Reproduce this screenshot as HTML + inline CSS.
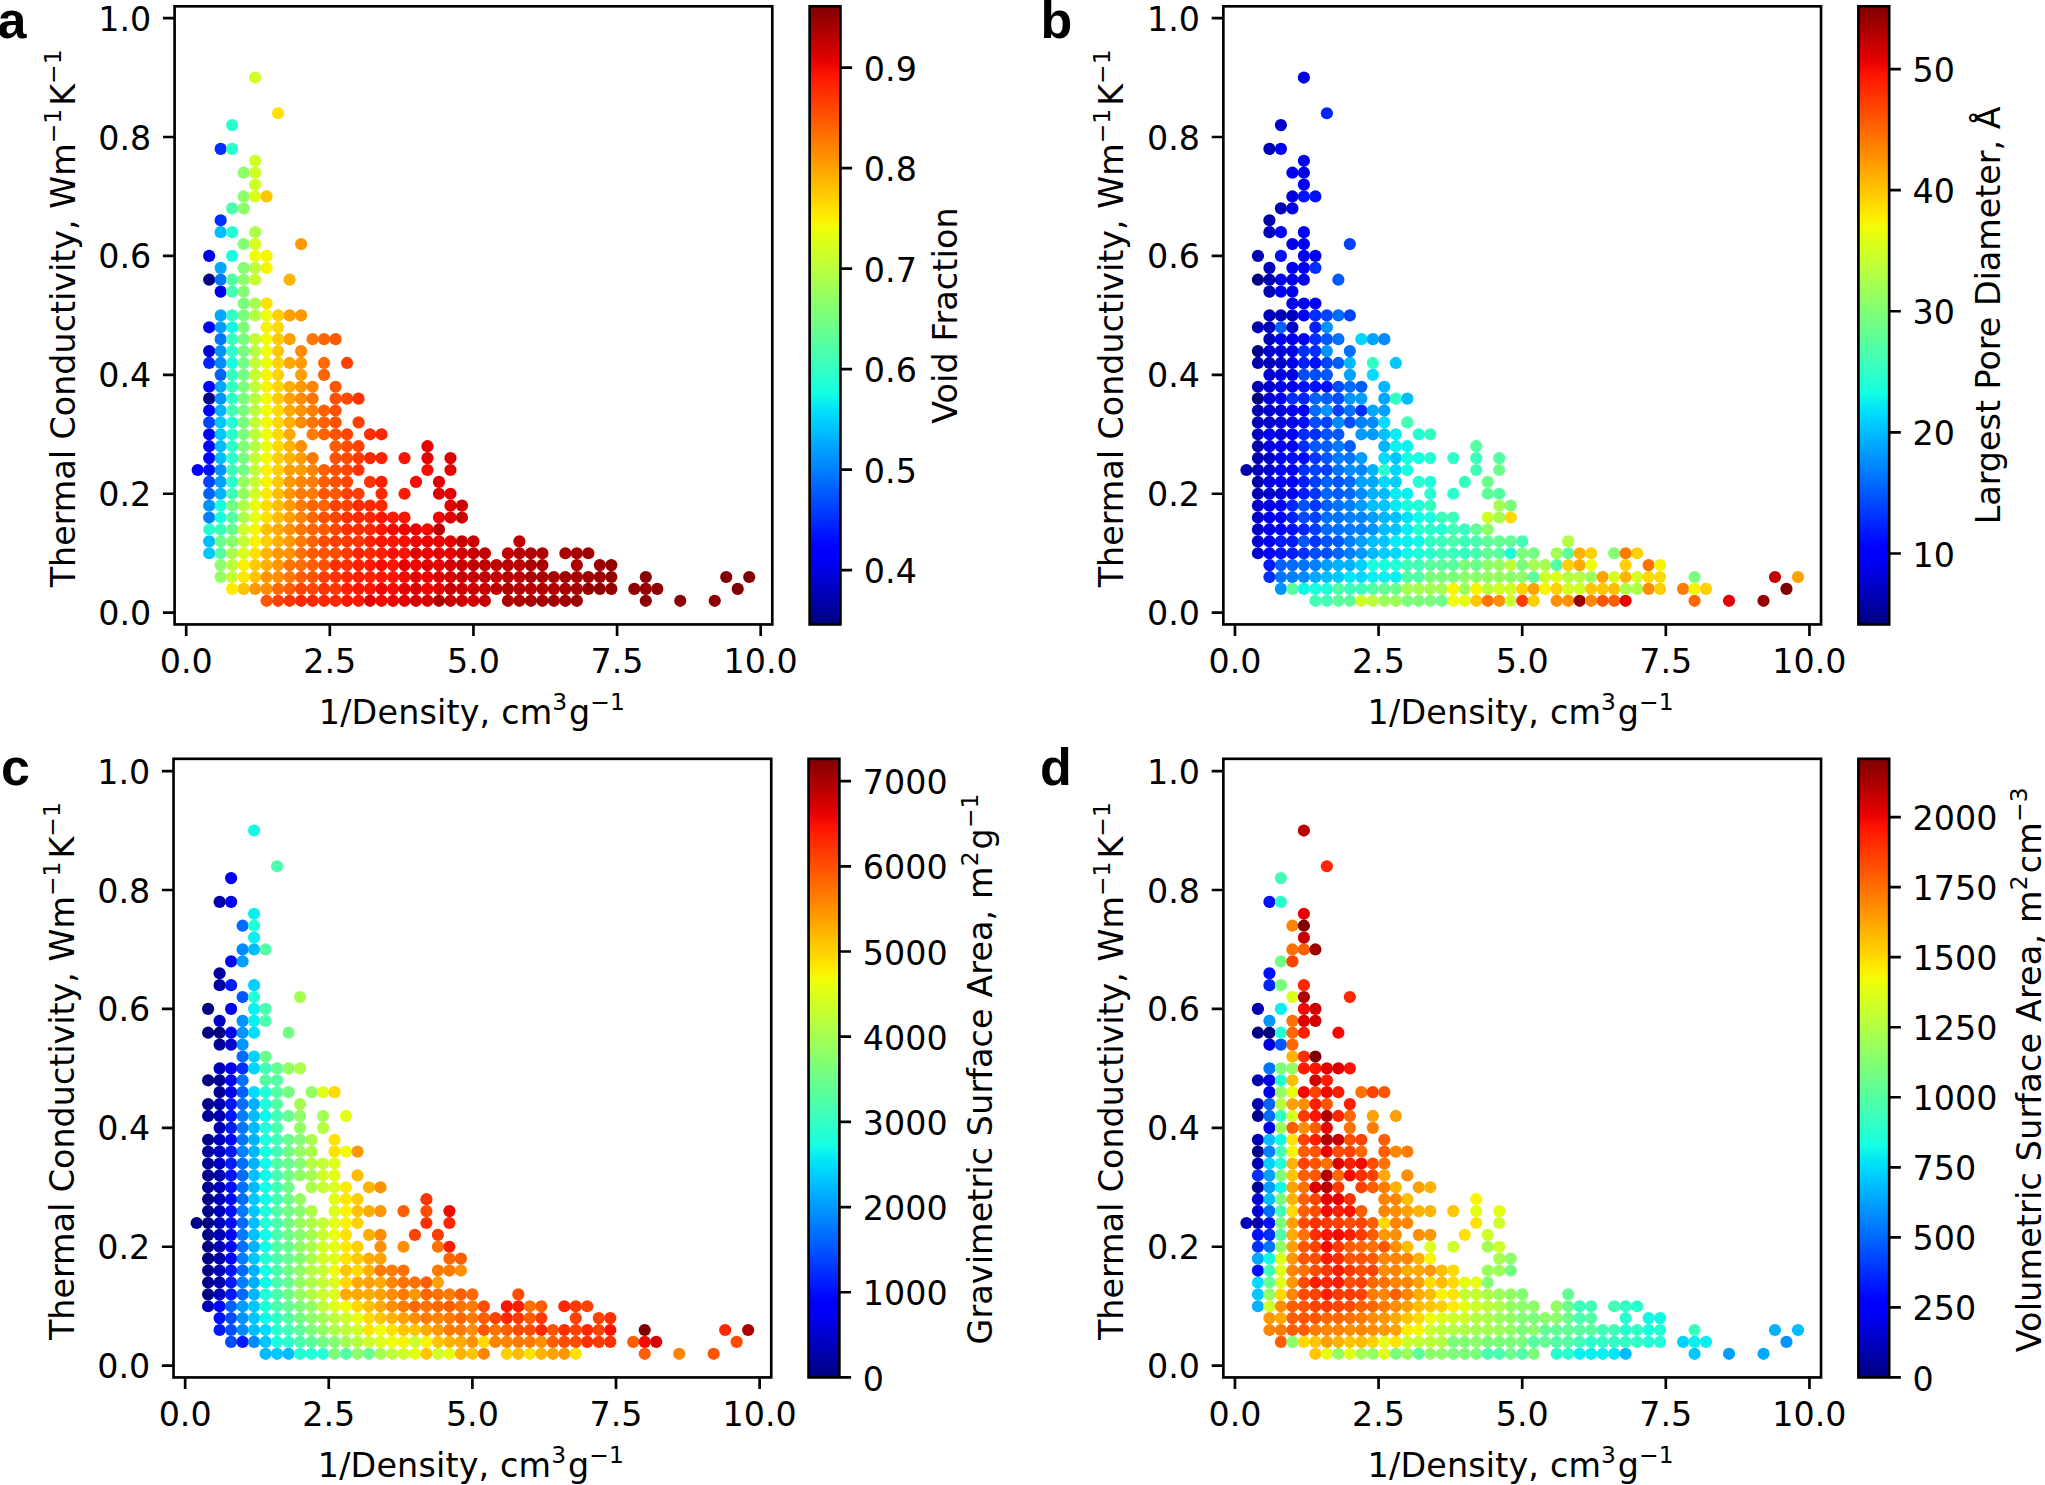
<!DOCTYPE html>
<html lang="en"><head><meta charset="utf-8"><title>Thermal conductivity vs 1/density</title>
<style>html,body{margin:0;padding:0;background:#fff}svg{display:block}</style></head>
<body>
<svg width="2045" height="1485" viewBox="0 0 2045 1485" font-family="'DejaVu Sans', 'Liberation Sans', sans-serif" font-size="33.33" fill="#000">
<rect width="2045" height="1485" fill="#fff"/>
<defs><linearGradient id="jet" x1="0" y1="1" x2="0" y2="0">
<stop offset="0.0000" stop-color="#000080"/>
<stop offset="0.0156" stop-color="#000092"/>
<stop offset="0.0312" stop-color="#0000a4"/>
<stop offset="0.0469" stop-color="#0000b6"/>
<stop offset="0.0625" stop-color="#0000c8"/>
<stop offset="0.0781" stop-color="#0000da"/>
<stop offset="0.0938" stop-color="#0000ec"/>
<stop offset="0.1094" stop-color="#0000fe"/>
<stop offset="0.1250" stop-color="#0000ff"/>
<stop offset="0.1406" stop-color="#0010ff"/>
<stop offset="0.1562" stop-color="#0020ff"/>
<stop offset="0.1719" stop-color="#0030ff"/>
<stop offset="0.1875" stop-color="#0040ff"/>
<stop offset="0.2031" stop-color="#0050ff"/>
<stop offset="0.2188" stop-color="#0060ff"/>
<stop offset="0.2344" stop-color="#0070ff"/>
<stop offset="0.2500" stop-color="#0080ff"/>
<stop offset="0.2656" stop-color="#008fff"/>
<stop offset="0.2812" stop-color="#009fff"/>
<stop offset="0.2969" stop-color="#00afff"/>
<stop offset="0.3125" stop-color="#00bfff"/>
<stop offset="0.3281" stop-color="#00cfff"/>
<stop offset="0.3438" stop-color="#00dffc"/>
<stop offset="0.3594" stop-color="#08efef"/>
<stop offset="0.3750" stop-color="#15ffe2"/>
<stop offset="0.3906" stop-color="#21ffd5"/>
<stop offset="0.4062" stop-color="#2effc9"/>
<stop offset="0.4219" stop-color="#3bffbc"/>
<stop offset="0.4375" stop-color="#48ffaf"/>
<stop offset="0.4531" stop-color="#55ffa2"/>
<stop offset="0.4688" stop-color="#62ff95"/>
<stop offset="0.4844" stop-color="#6fff88"/>
<stop offset="0.5000" stop-color="#7bff7b"/>
<stop offset="0.5156" stop-color="#88ff6f"/>
<stop offset="0.5312" stop-color="#95ff62"/>
<stop offset="0.5469" stop-color="#a2ff55"/>
<stop offset="0.5625" stop-color="#afff48"/>
<stop offset="0.5781" stop-color="#bcff3b"/>
<stop offset="0.5938" stop-color="#c9ff2e"/>
<stop offset="0.6094" stop-color="#d5ff21"/>
<stop offset="0.6250" stop-color="#e2ff15"/>
<stop offset="0.6406" stop-color="#effe08"/>
<stop offset="0.6562" stop-color="#fcf000"/>
<stop offset="0.6719" stop-color="#ffe100"/>
<stop offset="0.6875" stop-color="#ffd200"/>
<stop offset="0.7031" stop-color="#ffc300"/>
<stop offset="0.7188" stop-color="#ffb500"/>
<stop offset="0.7344" stop-color="#ffa600"/>
<stop offset="0.7500" stop-color="#ff9700"/>
<stop offset="0.7656" stop-color="#ff8800"/>
<stop offset="0.7812" stop-color="#ff7a00"/>
<stop offset="0.7969" stop-color="#ff6b00"/>
<stop offset="0.8125" stop-color="#ff5c00"/>
<stop offset="0.8281" stop-color="#ff4d00"/>
<stop offset="0.8438" stop-color="#ff3f00"/>
<stop offset="0.8594" stop-color="#ff3000"/>
<stop offset="0.8750" stop-color="#ff2100"/>
<stop offset="0.8906" stop-color="#fe1200"/>
<stop offset="0.9062" stop-color="#ec0400"/>
<stop offset="0.9219" stop-color="#da0000"/>
<stop offset="0.9375" stop-color="#c80000"/>
<stop offset="0.9531" stop-color="#b60000"/>
<stop offset="0.9688" stop-color="#a40000"/>
<stop offset="0.9844" stop-color="#920000"/>
<stop offset="1.0000" stop-color="#800000"/>
</linearGradient></defs>
<g id="panel-a">
<g stroke="none">
<circle cx="266.63" cy="600.80" r="6.1" fill="#ff5500"/>
<circle cx="278.12" cy="600.80" r="6.1" fill="#ff4200"/>
<circle cx="289.61" cy="600.80" r="6.1" fill="#ff3400"/>
<circle cx="301.10" cy="600.80" r="6.1" fill="#ff2600"/>
<circle cx="312.59" cy="600.80" r="6.1" fill="#ff2600"/>
<circle cx="324.08" cy="600.80" r="6.1" fill="#ff2600"/>
<circle cx="335.57" cy="600.80" r="6.1" fill="#ff2600"/>
<circle cx="347.06" cy="600.80" r="6.1" fill="#ff1800"/>
<circle cx="358.55" cy="600.80" r="6.1" fill="#ff1800"/>
<circle cx="370.04" cy="600.80" r="6.1" fill="#e20000"/>
<circle cx="381.53" cy="600.80" r="6.1" fill="#f30900"/>
<circle cx="393.02" cy="600.80" r="6.1" fill="#ee0500"/>
<circle cx="404.51" cy="600.80" r="6.1" fill="#e20000"/>
<circle cx="416.00" cy="600.80" r="6.1" fill="#d60000"/>
<circle cx="427.49" cy="600.80" r="6.1" fill="#d60000"/>
<circle cx="438.98" cy="600.80" r="6.1" fill="#ae0000"/>
<circle cx="450.47" cy="600.80" r="6.1" fill="#c50000"/>
<circle cx="461.96" cy="600.80" r="6.1" fill="#d10000"/>
<circle cx="473.45" cy="600.80" r="6.1" fill="#d10000"/>
<circle cx="484.94" cy="600.80" r="6.1" fill="#c50000"/>
<circle cx="507.92" cy="600.80" r="6.1" fill="#ae0000"/>
<circle cx="519.41" cy="600.80" r="6.1" fill="#ae0000"/>
<circle cx="530.90" cy="600.80" r="6.1" fill="#a80000"/>
<circle cx="542.39" cy="600.80" r="6.1" fill="#a80000"/>
<circle cx="553.88" cy="600.80" r="6.1" fill="#a20000"/>
<circle cx="565.37" cy="600.80" r="6.1" fill="#a20000"/>
<circle cx="576.86" cy="600.80" r="6.1" fill="#9c0000"/>
<circle cx="645.80" cy="600.80" r="6.1" fill="#8b0000"/>
<circle cx="680.27" cy="600.80" r="6.1" fill="#8b0000"/>
<circle cx="714.74" cy="600.80" r="6.1" fill="#8b0000"/>
<circle cx="232.16" cy="588.91" r="6.1" fill="#ffeb00"/>
<circle cx="243.65" cy="588.91" r="6.1" fill="#ffc400"/>
<circle cx="255.14" cy="588.91" r="6.1" fill="#ff9800"/>
<circle cx="266.63" cy="588.91" r="6.1" fill="#ff8e00"/>
<circle cx="278.12" cy="588.91" r="6.1" fill="#ff6900"/>
<circle cx="289.61" cy="588.91" r="6.1" fill="#ff5d00"/>
<circle cx="301.10" cy="588.91" r="6.1" fill="#ff4400"/>
<circle cx="312.59" cy="588.91" r="6.1" fill="#ff4700"/>
<circle cx="324.08" cy="588.91" r="6.1" fill="#ff3300"/>
<circle cx="335.57" cy="588.91" r="6.1" fill="#ff3600"/>
<circle cx="347.06" cy="588.91" r="6.1" fill="#ff1e00"/>
<circle cx="358.55" cy="588.91" r="6.1" fill="#ff1800"/>
<circle cx="370.04" cy="588.91" r="6.1" fill="#ff1600"/>
<circle cx="381.53" cy="588.91" r="6.1" fill="#f00600"/>
<circle cx="393.02" cy="588.91" r="6.1" fill="#f60c00"/>
<circle cx="404.51" cy="588.91" r="6.1" fill="#e70000"/>
<circle cx="416.00" cy="588.91" r="6.1" fill="#db0000"/>
<circle cx="427.49" cy="588.91" r="6.1" fill="#ef0500"/>
<circle cx="438.98" cy="588.91" r="6.1" fill="#e30000"/>
<circle cx="450.47" cy="588.91" r="6.1" fill="#c60000"/>
<circle cx="461.96" cy="588.91" r="6.1" fill="#d00000"/>
<circle cx="473.45" cy="588.91" r="6.1" fill="#ca0000"/>
<circle cx="484.94" cy="588.91" r="6.1" fill="#c60000"/>
<circle cx="496.43" cy="588.91" r="6.1" fill="#bf0000"/>
<circle cx="507.92" cy="588.91" r="6.1" fill="#b10000"/>
<circle cx="519.41" cy="588.91" r="6.1" fill="#b40000"/>
<circle cx="530.90" cy="588.91" r="6.1" fill="#b60000"/>
<circle cx="542.39" cy="588.91" r="6.1" fill="#b20000"/>
<circle cx="553.88" cy="588.91" r="6.1" fill="#ae0000"/>
<circle cx="565.37" cy="588.91" r="6.1" fill="#a90000"/>
<circle cx="576.86" cy="588.91" r="6.1" fill="#a70000"/>
<circle cx="588.35" cy="588.91" r="6.1" fill="#960000"/>
<circle cx="599.84" cy="588.91" r="6.1" fill="#920000"/>
<circle cx="611.33" cy="588.91" r="6.1" fill="#920000"/>
<circle cx="634.31" cy="588.91" r="6.1" fill="#900000"/>
<circle cx="645.80" cy="588.91" r="6.1" fill="#960000"/>
<circle cx="657.29" cy="588.91" r="6.1" fill="#8f0000"/>
<circle cx="737.72" cy="588.91" r="6.1" fill="#800000"/>
<circle cx="220.67" cy="577.01" r="6.1" fill="#94ff63"/>
<circle cx="232.16" cy="577.01" r="6.1" fill="#c6ff31"/>
<circle cx="243.65" cy="577.01" r="6.1" fill="#ffe900"/>
<circle cx="255.14" cy="577.01" r="6.1" fill="#ffc200"/>
<circle cx="266.63" cy="577.01" r="6.1" fill="#ff9500"/>
<circle cx="278.12" cy="577.01" r="6.1" fill="#ff8e00"/>
<circle cx="289.61" cy="577.01" r="6.1" fill="#ff7600"/>
<circle cx="301.10" cy="577.01" r="6.1" fill="#ff5c00"/>
<circle cx="312.59" cy="577.01" r="6.1" fill="#ff5200"/>
<circle cx="324.08" cy="577.01" r="6.1" fill="#ff3d00"/>
<circle cx="335.57" cy="577.01" r="6.1" fill="#ff3200"/>
<circle cx="347.06" cy="577.01" r="6.1" fill="#ff2500"/>
<circle cx="358.55" cy="577.01" r="6.1" fill="#ff1e00"/>
<circle cx="370.04" cy="577.01" r="6.1" fill="#ff2000"/>
<circle cx="381.53" cy="577.01" r="6.1" fill="#ff1900"/>
<circle cx="393.02" cy="577.01" r="6.1" fill="#ff1300"/>
<circle cx="404.51" cy="577.01" r="6.1" fill="#f40a00"/>
<circle cx="416.00" cy="577.01" r="6.1" fill="#e20000"/>
<circle cx="427.49" cy="577.01" r="6.1" fill="#e90100"/>
<circle cx="438.98" cy="577.01" r="6.1" fill="#de0000"/>
<circle cx="450.47" cy="577.01" r="6.1" fill="#d20000"/>
<circle cx="461.96" cy="577.01" r="6.1" fill="#c40000"/>
<circle cx="473.45" cy="577.01" r="6.1" fill="#c80000"/>
<circle cx="484.94" cy="577.01" r="6.1" fill="#bc0000"/>
<circle cx="496.43" cy="577.01" r="6.1" fill="#c20000"/>
<circle cx="507.92" cy="577.01" r="6.1" fill="#bb0000"/>
<circle cx="519.41" cy="577.01" r="6.1" fill="#b90000"/>
<circle cx="530.90" cy="577.01" r="6.1" fill="#a70000"/>
<circle cx="542.39" cy="577.01" r="6.1" fill="#a70000"/>
<circle cx="553.88" cy="577.01" r="6.1" fill="#a90000"/>
<circle cx="565.37" cy="577.01" r="6.1" fill="#a30000"/>
<circle cx="576.86" cy="577.01" r="6.1" fill="#a80000"/>
<circle cx="588.35" cy="577.01" r="6.1" fill="#a30000"/>
<circle cx="599.84" cy="577.01" r="6.1" fill="#9d0000"/>
<circle cx="611.33" cy="577.01" r="6.1" fill="#940000"/>
<circle cx="645.80" cy="577.01" r="6.1" fill="#890000"/>
<circle cx="726.23" cy="577.01" r="6.1" fill="#800000"/>
<circle cx="749.21" cy="577.01" r="6.1" fill="#800000"/>
<circle cx="220.67" cy="565.12" r="6.1" fill="#8cff6b"/>
<circle cx="232.16" cy="565.12" r="6.1" fill="#bcff3b"/>
<circle cx="243.65" cy="565.12" r="6.1" fill="#fbf100"/>
<circle cx="255.14" cy="565.12" r="6.1" fill="#ffcb00"/>
<circle cx="266.63" cy="565.12" r="6.1" fill="#ffb000"/>
<circle cx="278.12" cy="565.12" r="6.1" fill="#ff9600"/>
<circle cx="289.61" cy="565.12" r="6.1" fill="#ff7100"/>
<circle cx="301.10" cy="565.12" r="6.1" fill="#ff6c00"/>
<circle cx="312.59" cy="565.12" r="6.1" fill="#ff5f00"/>
<circle cx="324.08" cy="565.12" r="6.1" fill="#ff4e00"/>
<circle cx="335.57" cy="565.12" r="6.1" fill="#ff2f00"/>
<circle cx="347.06" cy="565.12" r="6.1" fill="#ff2d00"/>
<circle cx="358.55" cy="565.12" r="6.1" fill="#ff1f00"/>
<circle cx="370.04" cy="565.12" r="6.1" fill="#ff1700"/>
<circle cx="381.53" cy="565.12" r="6.1" fill="#f70d00"/>
<circle cx="393.02" cy="565.12" r="6.1" fill="#ff1400"/>
<circle cx="404.51" cy="565.12" r="6.1" fill="#e80000"/>
<circle cx="416.00" cy="565.12" r="6.1" fill="#f00600"/>
<circle cx="427.49" cy="565.12" r="6.1" fill="#e10000"/>
<circle cx="438.98" cy="565.12" r="6.1" fill="#e70000"/>
<circle cx="450.47" cy="565.12" r="6.1" fill="#d20000"/>
<circle cx="461.96" cy="565.12" r="6.1" fill="#ca0000"/>
<circle cx="473.45" cy="565.12" r="6.1" fill="#c10000"/>
<circle cx="484.94" cy="565.12" r="6.1" fill="#bc0000"/>
<circle cx="496.43" cy="565.12" r="6.1" fill="#c10000"/>
<circle cx="507.92" cy="565.12" r="6.1" fill="#b90000"/>
<circle cx="519.41" cy="565.12" r="6.1" fill="#bd0000"/>
<circle cx="530.90" cy="565.12" r="6.1" fill="#a80000"/>
<circle cx="542.39" cy="565.12" r="6.1" fill="#aa0000"/>
<circle cx="576.86" cy="565.12" r="6.1" fill="#ac0000"/>
<circle cx="599.84" cy="565.12" r="6.1" fill="#9a0000"/>
<circle cx="611.33" cy="565.12" r="6.1" fill="#940000"/>
<circle cx="209.18" cy="553.23" r="6.1" fill="#00c7ff"/>
<circle cx="220.67" cy="553.23" r="6.1" fill="#52ffa5"/>
<circle cx="232.16" cy="553.23" r="6.1" fill="#abff4c"/>
<circle cx="243.65" cy="553.23" r="6.1" fill="#daff1d"/>
<circle cx="255.14" cy="553.23" r="6.1" fill="#ffe100"/>
<circle cx="266.63" cy="553.23" r="6.1" fill="#ffb600"/>
<circle cx="278.12" cy="553.23" r="6.1" fill="#ff9900"/>
<circle cx="289.61" cy="553.23" r="6.1" fill="#ff9100"/>
<circle cx="301.10" cy="553.23" r="6.1" fill="#ff6f00"/>
<circle cx="312.59" cy="553.23" r="6.1" fill="#ff5a00"/>
<circle cx="324.08" cy="553.23" r="6.1" fill="#ff5400"/>
<circle cx="335.57" cy="553.23" r="6.1" fill="#ff4c00"/>
<circle cx="347.06" cy="553.23" r="6.1" fill="#ff3900"/>
<circle cx="358.55" cy="553.23" r="6.1" fill="#ff2200"/>
<circle cx="370.04" cy="553.23" r="6.1" fill="#ff2a00"/>
<circle cx="381.53" cy="553.23" r="6.1" fill="#ff1d00"/>
<circle cx="393.02" cy="553.23" r="6.1" fill="#fa0f00"/>
<circle cx="404.51" cy="553.23" r="6.1" fill="#ff1400"/>
<circle cx="416.00" cy="553.23" r="6.1" fill="#e30000"/>
<circle cx="427.49" cy="553.23" r="6.1" fill="#ed0400"/>
<circle cx="438.98" cy="553.23" r="6.1" fill="#e50000"/>
<circle cx="450.47" cy="553.23" r="6.1" fill="#e20000"/>
<circle cx="461.96" cy="553.23" r="6.1" fill="#d40000"/>
<circle cx="473.45" cy="553.23" r="6.1" fill="#c60000"/>
<circle cx="484.94" cy="553.23" r="6.1" fill="#c10000"/>
<circle cx="507.92" cy="553.23" r="6.1" fill="#c00000"/>
<circle cx="519.41" cy="553.23" r="6.1" fill="#b40000"/>
<circle cx="530.90" cy="553.23" r="6.1" fill="#b20000"/>
<circle cx="542.39" cy="553.23" r="6.1" fill="#b00000"/>
<circle cx="565.37" cy="553.23" r="6.1" fill="#aa0000"/>
<circle cx="576.86" cy="553.23" r="6.1" fill="#a60000"/>
<circle cx="588.35" cy="553.23" r="6.1" fill="#a00000"/>
<circle cx="209.18" cy="541.34" r="6.1" fill="#00bdff"/>
<circle cx="220.67" cy="541.34" r="6.1" fill="#6bff8c"/>
<circle cx="232.16" cy="541.34" r="6.1" fill="#8aff6d"/>
<circle cx="243.65" cy="541.34" r="6.1" fill="#c3ff34"/>
<circle cx="255.14" cy="541.34" r="6.1" fill="#f7f500"/>
<circle cx="266.63" cy="541.34" r="6.1" fill="#ffce00"/>
<circle cx="278.12" cy="541.34" r="6.1" fill="#ffb000"/>
<circle cx="289.61" cy="541.34" r="6.1" fill="#ff9900"/>
<circle cx="301.10" cy="541.34" r="6.1" fill="#ff7b00"/>
<circle cx="312.59" cy="541.34" r="6.1" fill="#ff6300"/>
<circle cx="324.08" cy="541.34" r="6.1" fill="#ff4b00"/>
<circle cx="335.57" cy="541.34" r="6.1" fill="#ff3d00"/>
<circle cx="347.06" cy="541.34" r="6.1" fill="#ff3800"/>
<circle cx="358.55" cy="541.34" r="6.1" fill="#ff3600"/>
<circle cx="370.04" cy="541.34" r="6.1" fill="#ff2000"/>
<circle cx="381.53" cy="541.34" r="6.1" fill="#fe1200"/>
<circle cx="393.02" cy="541.34" r="6.1" fill="#ff1400"/>
<circle cx="404.51" cy="541.34" r="6.1" fill="#f90e00"/>
<circle cx="416.00" cy="541.34" r="6.1" fill="#ed0400"/>
<circle cx="427.49" cy="541.34" r="6.1" fill="#eb0300"/>
<circle cx="438.98" cy="541.34" r="6.1" fill="#ea0200"/>
<circle cx="450.47" cy="541.34" r="6.1" fill="#e30000"/>
<circle cx="461.96" cy="541.34" r="6.1" fill="#c80000"/>
<circle cx="473.45" cy="541.34" r="6.1" fill="#ca0000"/>
<circle cx="519.41" cy="541.34" r="6.1" fill="#bf0000"/>
<circle cx="209.18" cy="529.45" r="6.1" fill="#29ffce"/>
<circle cx="220.67" cy="529.45" r="6.1" fill="#3affbd"/>
<circle cx="232.16" cy="529.45" r="6.1" fill="#67ff90"/>
<circle cx="243.65" cy="529.45" r="6.1" fill="#ccff2b"/>
<circle cx="255.14" cy="529.45" r="6.1" fill="#f4f903"/>
<circle cx="266.63" cy="529.45" r="6.1" fill="#ffc100"/>
<circle cx="278.12" cy="529.45" r="6.1" fill="#ffa900"/>
<circle cx="289.61" cy="529.45" r="6.1" fill="#ff9000"/>
<circle cx="301.10" cy="529.45" r="6.1" fill="#ff7500"/>
<circle cx="312.59" cy="529.45" r="6.1" fill="#ff6600"/>
<circle cx="324.08" cy="529.45" r="6.1" fill="#ff5c00"/>
<circle cx="335.57" cy="529.45" r="6.1" fill="#ff4600"/>
<circle cx="347.06" cy="529.45" r="6.1" fill="#ff3000"/>
<circle cx="358.55" cy="529.45" r="6.1" fill="#ff2c00"/>
<circle cx="370.04" cy="529.45" r="6.1" fill="#ff2900"/>
<circle cx="381.53" cy="529.45" r="6.1" fill="#ff1400"/>
<circle cx="393.02" cy="529.45" r="6.1" fill="#f30900"/>
<circle cx="404.51" cy="529.45" r="6.1" fill="#ee0500"/>
<circle cx="416.00" cy="529.45" r="6.1" fill="#e80000"/>
<circle cx="427.49" cy="529.45" r="6.1" fill="#f20900"/>
<circle cx="438.98" cy="529.45" r="6.1" fill="#b90000"/>
<circle cx="209.18" cy="517.55" r="6.1" fill="#0080ff"/>
<circle cx="220.67" cy="517.55" r="6.1" fill="#19ffde"/>
<circle cx="232.16" cy="517.55" r="6.1" fill="#50ffa7"/>
<circle cx="243.65" cy="517.55" r="6.1" fill="#acff4b"/>
<circle cx="255.14" cy="517.55" r="6.1" fill="#e4ff13"/>
<circle cx="266.63" cy="517.55" r="6.1" fill="#ffe100"/>
<circle cx="278.12" cy="517.55" r="6.1" fill="#ffbd00"/>
<circle cx="289.61" cy="517.55" r="6.1" fill="#ff9f00"/>
<circle cx="301.10" cy="517.55" r="6.1" fill="#ff8400"/>
<circle cx="312.59" cy="517.55" r="6.1" fill="#ff6700"/>
<circle cx="324.08" cy="517.55" r="6.1" fill="#ff5000"/>
<circle cx="335.57" cy="517.55" r="6.1" fill="#ff4400"/>
<circle cx="347.06" cy="517.55" r="6.1" fill="#ff3100"/>
<circle cx="358.55" cy="517.55" r="6.1" fill="#ff2700"/>
<circle cx="370.04" cy="517.55" r="6.1" fill="#ff2600"/>
<circle cx="381.53" cy="517.55" r="6.1" fill="#ff1500"/>
<circle cx="393.02" cy="517.55" r="6.1" fill="#ff1b00"/>
<circle cx="404.51" cy="517.55" r="6.1" fill="#ff1400"/>
<circle cx="438.98" cy="517.55" r="6.1" fill="#ee0500"/>
<circle cx="450.47" cy="517.55" r="6.1" fill="#dc0000"/>
<circle cx="461.96" cy="517.55" r="6.1" fill="#c80000"/>
<circle cx="209.18" cy="505.66" r="6.1" fill="#0094ff"/>
<circle cx="220.67" cy="505.66" r="6.1" fill="#19ffde"/>
<circle cx="232.16" cy="505.66" r="6.1" fill="#71ff85"/>
<circle cx="243.65" cy="505.66" r="6.1" fill="#aeff49"/>
<circle cx="255.14" cy="505.66" r="6.1" fill="#e8ff0f"/>
<circle cx="266.63" cy="505.66" r="6.1" fill="#ffdc00"/>
<circle cx="278.12" cy="505.66" r="6.1" fill="#ffbd00"/>
<circle cx="289.61" cy="505.66" r="6.1" fill="#ff9d00"/>
<circle cx="301.10" cy="505.66" r="6.1" fill="#ff7a00"/>
<circle cx="312.59" cy="505.66" r="6.1" fill="#ff6400"/>
<circle cx="324.08" cy="505.66" r="6.1" fill="#ff6400"/>
<circle cx="335.57" cy="505.66" r="6.1" fill="#ff4100"/>
<circle cx="347.06" cy="505.66" r="6.1" fill="#ff4400"/>
<circle cx="358.55" cy="505.66" r="6.1" fill="#ff2a00"/>
<circle cx="370.04" cy="505.66" r="6.1" fill="#ff2900"/>
<circle cx="381.53" cy="505.66" r="6.1" fill="#ff2800"/>
<circle cx="450.47" cy="505.66" r="6.1" fill="#dc0000"/>
<circle cx="461.96" cy="505.66" r="6.1" fill="#ce0000"/>
<circle cx="209.18" cy="493.77" r="6.1" fill="#0061ff"/>
<circle cx="220.67" cy="493.77" r="6.1" fill="#00b2ff"/>
<circle cx="232.16" cy="493.77" r="6.1" fill="#3effb9"/>
<circle cx="243.65" cy="493.77" r="6.1" fill="#94ff63"/>
<circle cx="255.14" cy="493.77" r="6.1" fill="#d4ff23"/>
<circle cx="266.63" cy="493.77" r="6.1" fill="#ffe900"/>
<circle cx="278.12" cy="493.77" r="6.1" fill="#ffbf00"/>
<circle cx="289.61" cy="493.77" r="6.1" fill="#ff9700"/>
<circle cx="301.10" cy="493.77" r="6.1" fill="#ff7c00"/>
<circle cx="312.59" cy="493.77" r="6.1" fill="#ff7a00"/>
<circle cx="324.08" cy="493.77" r="6.1" fill="#ff5700"/>
<circle cx="335.57" cy="493.77" r="6.1" fill="#ff5800"/>
<circle cx="347.06" cy="493.77" r="6.1" fill="#ff3f00"/>
<circle cx="358.55" cy="493.77" r="6.1" fill="#ff3d00"/>
<circle cx="381.53" cy="493.77" r="6.1" fill="#ff2900"/>
<circle cx="404.51" cy="493.77" r="6.1" fill="#ff1900"/>
<circle cx="438.98" cy="493.77" r="6.1" fill="#df0000"/>
<circle cx="450.47" cy="493.77" r="6.1" fill="#e30000"/>
<circle cx="209.18" cy="481.88" r="6.1" fill="#0042ff"/>
<circle cx="220.67" cy="481.88" r="6.1" fill="#009eff"/>
<circle cx="232.16" cy="481.88" r="6.1" fill="#2affcd"/>
<circle cx="243.65" cy="481.88" r="6.1" fill="#96ff61"/>
<circle cx="255.14" cy="481.88" r="6.1" fill="#c6ff31"/>
<circle cx="266.63" cy="481.88" r="6.1" fill="#f8f400"/>
<circle cx="278.12" cy="481.88" r="6.1" fill="#ffc900"/>
<circle cx="289.61" cy="481.88" r="6.1" fill="#ff9800"/>
<circle cx="301.10" cy="481.88" r="6.1" fill="#ff8400"/>
<circle cx="312.59" cy="481.88" r="6.1" fill="#ff7e00"/>
<circle cx="324.08" cy="481.88" r="6.1" fill="#ff5d00"/>
<circle cx="335.57" cy="481.88" r="6.1" fill="#ff4f00"/>
<circle cx="347.06" cy="481.88" r="6.1" fill="#ff4600"/>
<circle cx="370.04" cy="481.88" r="6.1" fill="#ff3100"/>
<circle cx="381.53" cy="481.88" r="6.1" fill="#ff1d00"/>
<circle cx="416.00" cy="481.88" r="6.1" fill="#f70d00"/>
<circle cx="438.98" cy="481.88" r="6.1" fill="#e10000"/>
<circle cx="197.69" cy="469.99" r="6.1" fill="#0000ff"/>
<circle cx="209.18" cy="469.99" r="6.1" fill="#000fff"/>
<circle cx="220.67" cy="469.99" r="6.1" fill="#0094ff"/>
<circle cx="232.16" cy="469.99" r="6.1" fill="#3dffba"/>
<circle cx="243.65" cy="469.99" r="6.1" fill="#73ff84"/>
<circle cx="255.14" cy="469.99" r="6.1" fill="#c1ff36"/>
<circle cx="266.63" cy="469.99" r="6.1" fill="#fbf100"/>
<circle cx="278.12" cy="469.99" r="6.1" fill="#ffd000"/>
<circle cx="289.61" cy="469.99" r="6.1" fill="#ffa000"/>
<circle cx="301.10" cy="469.99" r="6.1" fill="#ff9c00"/>
<circle cx="312.59" cy="469.99" r="6.1" fill="#ff8400"/>
<circle cx="324.08" cy="469.99" r="6.1" fill="#ff5e00"/>
<circle cx="335.57" cy="469.99" r="6.1" fill="#ff4f00"/>
<circle cx="347.06" cy="469.99" r="6.1" fill="#ff4600"/>
<circle cx="358.55" cy="469.99" r="6.1" fill="#ff3100"/>
<circle cx="427.49" cy="469.99" r="6.1" fill="#f60c00"/>
<circle cx="450.47" cy="469.99" r="6.1" fill="#e20000"/>
<circle cx="209.18" cy="458.09" r="6.1" fill="#0000ff"/>
<circle cx="220.67" cy="458.09" r="6.1" fill="#00bdff"/>
<circle cx="232.16" cy="458.09" r="6.1" fill="#2affcd"/>
<circle cx="243.65" cy="458.09" r="6.1" fill="#76ff81"/>
<circle cx="255.14" cy="458.09" r="6.1" fill="#c6ff31"/>
<circle cx="266.63" cy="458.09" r="6.1" fill="#f4f903"/>
<circle cx="278.12" cy="458.09" r="6.1" fill="#ffce00"/>
<circle cx="289.61" cy="458.09" r="6.1" fill="#ffb100"/>
<circle cx="301.10" cy="458.09" r="6.1" fill="#ff9a00"/>
<circle cx="312.59" cy="458.09" r="6.1" fill="#ff7900"/>
<circle cx="335.57" cy="458.09" r="6.1" fill="#ff5000"/>
<circle cx="347.06" cy="458.09" r="6.1" fill="#ff4a00"/>
<circle cx="358.55" cy="458.09" r="6.1" fill="#ff3900"/>
<circle cx="370.04" cy="458.09" r="6.1" fill="#ff2700"/>
<circle cx="381.53" cy="458.09" r="6.1" fill="#ff2200"/>
<circle cx="404.51" cy="458.09" r="6.1" fill="#fd1100"/>
<circle cx="427.49" cy="458.09" r="6.1" fill="#e60000"/>
<circle cx="450.47" cy="458.09" r="6.1" fill="#dd0000"/>
<circle cx="209.18" cy="446.20" r="6.1" fill="#0000ff"/>
<circle cx="220.67" cy="446.20" r="6.1" fill="#00bdff"/>
<circle cx="232.16" cy="446.20" r="6.1" fill="#2fffc8"/>
<circle cx="243.65" cy="446.20" r="6.1" fill="#81ff76"/>
<circle cx="255.14" cy="446.20" r="6.1" fill="#b6ff41"/>
<circle cx="266.63" cy="446.20" r="6.1" fill="#eaff0c"/>
<circle cx="278.12" cy="446.20" r="6.1" fill="#ffd900"/>
<circle cx="289.61" cy="446.20" r="6.1" fill="#ffb400"/>
<circle cx="301.10" cy="446.20" r="6.1" fill="#ff8d00"/>
<circle cx="335.57" cy="446.20" r="6.1" fill="#ff5b00"/>
<circle cx="347.06" cy="446.20" r="6.1" fill="#ff4e00"/>
<circle cx="358.55" cy="446.20" r="6.1" fill="#ff4200"/>
<circle cx="427.49" cy="446.20" r="6.1" fill="#eb0200"/>
<circle cx="209.18" cy="434.31" r="6.1" fill="#0000ff"/>
<circle cx="220.67" cy="434.31" r="6.1" fill="#00c7ff"/>
<circle cx="232.16" cy="434.31" r="6.1" fill="#29ffcd"/>
<circle cx="243.65" cy="434.31" r="6.1" fill="#7cff7b"/>
<circle cx="255.14" cy="434.31" r="6.1" fill="#bcff3b"/>
<circle cx="266.63" cy="434.31" r="6.1" fill="#eeff09"/>
<circle cx="278.12" cy="434.31" r="6.1" fill="#ffda00"/>
<circle cx="289.61" cy="434.31" r="6.1" fill="#ffa900"/>
<circle cx="312.59" cy="434.31" r="6.1" fill="#ff7b00"/>
<circle cx="324.08" cy="434.31" r="6.1" fill="#ff6200"/>
<circle cx="335.57" cy="434.31" r="6.1" fill="#ff5000"/>
<circle cx="347.06" cy="434.31" r="6.1" fill="#ff4300"/>
<circle cx="370.04" cy="434.31" r="6.1" fill="#ff2e00"/>
<circle cx="381.53" cy="434.31" r="6.1" fill="#ff2400"/>
<circle cx="209.18" cy="422.42" r="6.1" fill="#0042ff"/>
<circle cx="220.67" cy="422.42" r="6.1" fill="#00c7ff"/>
<circle cx="232.16" cy="422.42" r="6.1" fill="#22ffd5"/>
<circle cx="243.65" cy="422.42" r="6.1" fill="#77ff80"/>
<circle cx="255.14" cy="422.42" r="6.1" fill="#c4ff33"/>
<circle cx="266.63" cy="422.42" r="6.1" fill="#f3fa04"/>
<circle cx="278.12" cy="422.42" r="6.1" fill="#ffd800"/>
<circle cx="289.61" cy="422.42" r="6.1" fill="#ffaf00"/>
<circle cx="301.10" cy="422.42" r="6.1" fill="#ff8b00"/>
<circle cx="312.59" cy="422.42" r="6.1" fill="#ff7400"/>
<circle cx="324.08" cy="422.42" r="6.1" fill="#ff6000"/>
<circle cx="335.57" cy="422.42" r="6.1" fill="#ff5200"/>
<circle cx="358.55" cy="422.42" r="6.1" fill="#ff3e00"/>
<circle cx="209.18" cy="410.53" r="6.1" fill="#0000ff"/>
<circle cx="220.67" cy="410.53" r="6.1" fill="#00b2ff"/>
<circle cx="232.16" cy="410.53" r="6.1" fill="#43ffb4"/>
<circle cx="243.65" cy="410.53" r="6.1" fill="#7aff7c"/>
<circle cx="255.14" cy="410.53" r="6.1" fill="#b9ff3d"/>
<circle cx="266.63" cy="410.53" r="6.1" fill="#f2fb05"/>
<circle cx="278.12" cy="410.53" r="6.1" fill="#ffd800"/>
<circle cx="289.61" cy="410.53" r="6.1" fill="#ffaa00"/>
<circle cx="301.10" cy="410.53" r="6.1" fill="#ff9300"/>
<circle cx="312.59" cy="410.53" r="6.1" fill="#ff8100"/>
<circle cx="324.08" cy="410.53" r="6.1" fill="#ff6100"/>
<circle cx="335.57" cy="410.53" r="6.1" fill="#ff5200"/>
<circle cx="209.18" cy="398.63" r="6.1" fill="#000080"/>
<circle cx="220.67" cy="398.63" r="6.1" fill="#0094ff"/>
<circle cx="232.16" cy="398.63" r="6.1" fill="#2fffc8"/>
<circle cx="243.65" cy="398.63" r="6.1" fill="#7aff7d"/>
<circle cx="255.14" cy="398.63" r="6.1" fill="#baff3c"/>
<circle cx="266.63" cy="398.63" r="6.1" fill="#f3fa04"/>
<circle cx="278.12" cy="398.63" r="6.1" fill="#ffcb00"/>
<circle cx="289.61" cy="398.63" r="6.1" fill="#ffa100"/>
<circle cx="301.10" cy="398.63" r="6.1" fill="#ff8b00"/>
<circle cx="312.59" cy="398.63" r="6.1" fill="#ff7400"/>
<circle cx="335.57" cy="398.63" r="6.1" fill="#ff5000"/>
<circle cx="347.06" cy="398.63" r="6.1" fill="#ff4800"/>
<circle cx="358.55" cy="398.63" r="6.1" fill="#ff3200"/>
<circle cx="209.18" cy="386.74" r="6.1" fill="#0000ff"/>
<circle cx="220.67" cy="386.74" r="6.1" fill="#00a8ff"/>
<circle cx="232.16" cy="386.74" r="6.1" fill="#30ffc7"/>
<circle cx="243.65" cy="386.74" r="6.1" fill="#7cff7b"/>
<circle cx="255.14" cy="386.74" r="6.1" fill="#bfff38"/>
<circle cx="266.63" cy="386.74" r="6.1" fill="#faf200"/>
<circle cx="278.12" cy="386.74" r="6.1" fill="#ffd500"/>
<circle cx="289.61" cy="386.74" r="6.1" fill="#ffae00"/>
<circle cx="301.10" cy="386.74" r="6.1" fill="#ff9800"/>
<circle cx="312.59" cy="386.74" r="6.1" fill="#ff8400"/>
<circle cx="335.57" cy="386.74" r="6.1" fill="#ff5600"/>
<circle cx="220.67" cy="374.85" r="6.1" fill="#0061ff"/>
<circle cx="232.16" cy="374.85" r="6.1" fill="#34ffc3"/>
<circle cx="243.65" cy="374.85" r="6.1" fill="#75ff82"/>
<circle cx="255.14" cy="374.85" r="6.1" fill="#c6ff31"/>
<circle cx="266.63" cy="374.85" r="6.1" fill="#f6f701"/>
<circle cx="278.12" cy="374.85" r="6.1" fill="#ffd200"/>
<circle cx="301.10" cy="374.85" r="6.1" fill="#ff9e00"/>
<circle cx="324.08" cy="374.85" r="6.1" fill="#ff6400"/>
<circle cx="209.18" cy="362.96" r="6.1" fill="#0024ff"/>
<circle cx="220.67" cy="362.96" r="6.1" fill="#008aff"/>
<circle cx="232.16" cy="362.96" r="6.1" fill="#13fde4"/>
<circle cx="243.65" cy="362.96" r="6.1" fill="#72ff85"/>
<circle cx="255.14" cy="362.96" r="6.1" fill="#c3ff34"/>
<circle cx="266.63" cy="362.96" r="6.1" fill="#ebff0c"/>
<circle cx="278.12" cy="362.96" r="6.1" fill="#ffd500"/>
<circle cx="289.61" cy="362.96" r="6.1" fill="#ffa600"/>
<circle cx="301.10" cy="362.96" r="6.1" fill="#ff9b00"/>
<circle cx="324.08" cy="362.96" r="6.1" fill="#ff6900"/>
<circle cx="347.06" cy="362.96" r="6.1" fill="#ff3e00"/>
<circle cx="209.18" cy="351.07" r="6.1" fill="#0000d1"/>
<circle cx="220.67" cy="351.07" r="6.1" fill="#0094ff"/>
<circle cx="232.16" cy="351.07" r="6.1" fill="#2cffcb"/>
<circle cx="243.65" cy="351.07" r="6.1" fill="#77ff80"/>
<circle cx="255.14" cy="351.07" r="6.1" fill="#b7ff40"/>
<circle cx="266.63" cy="351.07" r="6.1" fill="#eeff09"/>
<circle cx="278.12" cy="351.07" r="6.1" fill="#ffc900"/>
<circle cx="301.10" cy="351.07" r="6.1" fill="#ff8800"/>
<circle cx="220.67" cy="339.17" r="6.1" fill="#0075ff"/>
<circle cx="232.16" cy="339.17" r="6.1" fill="#39ffbe"/>
<circle cx="243.65" cy="339.17" r="6.1" fill="#79ff7e"/>
<circle cx="255.14" cy="339.17" r="6.1" fill="#c6ff30"/>
<circle cx="266.63" cy="339.17" r="6.1" fill="#f1fc06"/>
<circle cx="278.12" cy="339.17" r="6.1" fill="#ffca00"/>
<circle cx="289.61" cy="339.17" r="6.1" fill="#ffa100"/>
<circle cx="312.59" cy="339.17" r="6.1" fill="#ff7600"/>
<circle cx="324.08" cy="339.17" r="6.1" fill="#ff6700"/>
<circle cx="335.57" cy="339.17" r="6.1" fill="#ff5a00"/>
<circle cx="209.18" cy="327.28" r="6.1" fill="#0000ff"/>
<circle cx="220.67" cy="327.28" r="6.1" fill="#009eff"/>
<circle cx="232.16" cy="327.28" r="6.1" fill="#0ef7e9"/>
<circle cx="243.65" cy="327.28" r="6.1" fill="#7eff79"/>
<circle cx="266.63" cy="327.28" r="6.1" fill="#f9f300"/>
<circle cx="278.12" cy="327.28" r="6.1" fill="#ffd900"/>
<circle cx="220.67" cy="315.39" r="6.1" fill="#00a8ff"/>
<circle cx="232.16" cy="315.39" r="6.1" fill="#2fffc8"/>
<circle cx="243.65" cy="315.39" r="6.1" fill="#7aff7d"/>
<circle cx="255.14" cy="315.39" r="6.1" fill="#b4ff43"/>
<circle cx="266.63" cy="315.39" r="6.1" fill="#ecff0b"/>
<circle cx="278.12" cy="315.39" r="6.1" fill="#ffd000"/>
<circle cx="289.61" cy="315.39" r="6.1" fill="#ffa000"/>
<circle cx="301.10" cy="315.39" r="6.1" fill="#ff9800"/>
<circle cx="243.65" cy="303.50" r="6.1" fill="#7bff7b"/>
<circle cx="255.14" cy="303.50" r="6.1" fill="#a5ff52"/>
<circle cx="266.63" cy="303.50" r="6.1" fill="#ffe300"/>
<circle cx="220.67" cy="291.61" r="6.1" fill="#0000e8"/>
<circle cx="232.16" cy="291.61" r="6.1" fill="#42ffb5"/>
<circle cx="243.65" cy="291.61" r="6.1" fill="#84ff73"/>
<circle cx="209.18" cy="279.71" r="6.1" fill="#000080"/>
<circle cx="220.67" cy="279.71" r="6.1" fill="#0075ff"/>
<circle cx="232.16" cy="279.71" r="6.1" fill="#52ffa5"/>
<circle cx="243.65" cy="279.71" r="6.1" fill="#8cff6b"/>
<circle cx="255.14" cy="279.71" r="6.1" fill="#c5ff31"/>
<circle cx="289.61" cy="279.71" r="6.1" fill="#ffb300"/>
<circle cx="220.67" cy="267.82" r="6.1" fill="#00a8ff"/>
<circle cx="243.65" cy="267.82" r="6.1" fill="#84ff73"/>
<circle cx="255.14" cy="267.82" r="6.1" fill="#bdff3a"/>
<circle cx="266.63" cy="267.82" r="6.1" fill="#f7f600"/>
<circle cx="209.18" cy="255.93" r="6.1" fill="#0000e8"/>
<circle cx="232.16" cy="255.93" r="6.1" fill="#19ffde"/>
<circle cx="255.14" cy="255.93" r="6.1" fill="#efff08"/>
<circle cx="266.63" cy="255.93" r="6.1" fill="#f7f600"/>
<circle cx="243.65" cy="244.04" r="6.1" fill="#84ff73"/>
<circle cx="255.14" cy="244.04" r="6.1" fill="#d6ff21"/>
<circle cx="301.10" cy="244.04" r="6.1" fill="#ff9700"/>
<circle cx="220.67" cy="232.15" r="6.1" fill="#00bdff"/>
<circle cx="232.16" cy="232.15" r="6.1" fill="#21ffd6"/>
<circle cx="255.14" cy="232.15" r="6.1" fill="#adff4a"/>
<circle cx="220.67" cy="220.25" r="6.1" fill="#002eff"/>
<circle cx="232.16" cy="208.36" r="6.1" fill="#4affad"/>
<circle cx="243.65" cy="208.36" r="6.1" fill="#8cff6b"/>
<circle cx="243.65" cy="196.47" r="6.1" fill="#8cff6b"/>
<circle cx="255.14" cy="196.47" r="6.1" fill="#deff19"/>
<circle cx="266.63" cy="196.47" r="6.1" fill="#ffc600"/>
<circle cx="255.14" cy="184.58" r="6.1" fill="#ceff29"/>
<circle cx="243.65" cy="172.69" r="6.1" fill="#8cff6b"/>
<circle cx="255.14" cy="172.69" r="6.1" fill="#ceff29"/>
<circle cx="255.14" cy="160.79" r="6.1" fill="#ceff29"/>
<circle cx="220.67" cy="148.90" r="6.1" fill="#002eff"/>
<circle cx="232.16" cy="148.90" r="6.1" fill="#29ffce"/>
<circle cx="232.16" cy="125.12" r="6.1" fill="#29ffce"/>
<circle cx="278.12" cy="113.23" r="6.1" fill="#ffe300"/>
<circle cx="255.14" cy="77.55" r="6.1" fill="#ceff29"/>
</g>
<rect x="174.59" y="6.32" width="597.70" height="618.11" fill="none" stroke="#000" stroke-width="2.67"/>
<text x="186.20" y="673.43" text-anchor="middle">0.0</text>
<text x="329.82" y="673.43" text-anchor="middle">2.5</text>
<text x="473.45" y="673.43" text-anchor="middle">5.0</text>
<text x="617.08" y="673.43" text-anchor="middle">7.5</text>
<text x="760.70" y="673.43" text-anchor="middle">10.0</text>
<text x="151.29" y="625.19" text-anchor="end">0.0</text>
<text x="151.29" y="506.27" text-anchor="end">0.2</text>
<text x="151.29" y="387.35" text-anchor="end">0.4</text>
<text x="151.29" y="268.43" text-anchor="end">0.6</text>
<text x="151.29" y="149.51" text-anchor="end">0.8</text>
<text x="151.29" y="30.59" text-anchor="end">1.0</text>
<rect x="809.64" y="6.32" width="30.79" height="618.11" fill="url(#jet)" stroke="#000" stroke-width="2.67"/>
<text x="863.83" y="583.26">0.4</text>
<text x="863.83" y="482.75">0.5</text>
<text x="863.83" y="382.25">0.6</text>
<text x="863.83" y="281.74">0.7</text>
<text x="863.83" y="181.23">0.8</text>
<text x="863.83" y="80.73">0.9</text>
<path d="M186.20 624.43v11.67M329.82 624.43v11.67M473.45 624.43v11.67M617.08 624.43v11.67M760.70 624.43v11.67M174.59 612.69h-11.67M174.59 493.77h-11.67M174.59 374.85h-11.67M174.59 255.93h-11.67M174.59 137.01h-11.67M174.59 18.09h-11.67M840.43 570.16h11.67M840.43 469.65h11.67M840.43 369.15h11.67M840.43 268.64h11.67M840.43 168.13h11.67M840.43 67.63h11.67" stroke="#000" stroke-width="2.67" fill="none"/>
<text x="471.94" y="723.83" text-anchor="middle" letter-spacing="0.180">1/Density, cm<tspan font-size="23.33" dy="-13.80">3</tspan><tspan dy="13.80" dx="1.60">g</tspan><tspan font-size="23.33" dy="-13.80">−1</tspan></text>
<text transform="translate(74.59 318.38) rotate(-90)" text-anchor="middle" letter-spacing="0.000">Thermal Conductivity, Wm<tspan font-size="23.33" dy="-13.80">−1</tspan><tspan dy="13.80" dx="3.20">K</tspan><tspan font-size="23.33" dy="-13.80">−1</tspan></text>
<text transform="translate(957.10 315.52) rotate(-90)" text-anchor="middle" letter-spacing="0.150">Void Fraction</text>
<text x="-2.50" y="38.00" font-family="'Liberation Sans', Arial, Helvetica, sans-serif" font-weight="bold" font-size="52">a</text>
</g>
<g id="panel-b">
<g stroke="none">
<circle cx="1315.39" cy="600.80" r="6.1" fill="#42ffb5"/>
<circle cx="1326.88" cy="600.80" r="6.1" fill="#42ffb5"/>
<circle cx="1338.37" cy="600.80" r="6.1" fill="#5aff9c"/>
<circle cx="1349.86" cy="600.80" r="6.1" fill="#5aff9c"/>
<circle cx="1361.35" cy="600.80" r="6.1" fill="#ceff29"/>
<circle cx="1372.84" cy="600.80" r="6.1" fill="#bdff3a"/>
<circle cx="1384.33" cy="600.80" r="6.1" fill="#9cff5a"/>
<circle cx="1395.82" cy="600.80" r="6.1" fill="#9cff5a"/>
<circle cx="1407.31" cy="600.80" r="6.1" fill="#7bff7b"/>
<circle cx="1418.80" cy="600.80" r="6.1" fill="#7bff7b"/>
<circle cx="1430.29" cy="600.80" r="6.1" fill="#7bff7b"/>
<circle cx="1441.78" cy="600.80" r="6.1" fill="#6bff8c"/>
<circle cx="1453.27" cy="600.80" r="6.1" fill="#efff08"/>
<circle cx="1464.76" cy="600.80" r="6.1" fill="#e6ff10"/>
<circle cx="1476.25" cy="600.80" r="6.1" fill="#ffc600"/>
<circle cx="1487.74" cy="600.80" r="6.1" fill="#ff7100"/>
<circle cx="1499.23" cy="600.80" r="6.1" fill="#ff8e00"/>
<circle cx="1510.72" cy="600.80" r="6.1" fill="#c5ff31"/>
<circle cx="1522.21" cy="600.80" r="6.1" fill="#ff3900"/>
<circle cx="1533.70" cy="600.80" r="6.1" fill="#ffd000"/>
<circle cx="1556.68" cy="600.80" r="6.1" fill="#ff8e00"/>
<circle cx="1568.17" cy="600.80" r="6.1" fill="#ff8e00"/>
<circle cx="1579.66" cy="600.80" r="6.1" fill="#970000"/>
<circle cx="1591.15" cy="600.80" r="6.1" fill="#ff8400"/>
<circle cx="1602.64" cy="600.80" r="6.1" fill="#ff5500"/>
<circle cx="1614.13" cy="600.80" r="6.1" fill="#ff5e00"/>
<circle cx="1625.62" cy="600.80" r="6.1" fill="#e80000"/>
<circle cx="1694.56" cy="600.80" r="6.1" fill="#ff6800"/>
<circle cx="1729.03" cy="600.80" r="6.1" fill="#e80000"/>
<circle cx="1763.50" cy="600.80" r="6.1" fill="#970000"/>
<circle cx="1280.92" cy="588.91" r="6.1" fill="#0094ff"/>
<circle cx="1292.41" cy="588.91" r="6.1" fill="#5aff9c"/>
<circle cx="1303.90" cy="588.91" r="6.1" fill="#10fae6"/>
<circle cx="1315.39" cy="588.91" r="6.1" fill="#19ffde"/>
<circle cx="1326.88" cy="588.91" r="6.1" fill="#21ffd6"/>
<circle cx="1338.37" cy="588.91" r="6.1" fill="#52ffa5"/>
<circle cx="1349.86" cy="588.91" r="6.1" fill="#3affbd"/>
<circle cx="1361.35" cy="588.91" r="6.1" fill="#3affbd"/>
<circle cx="1372.84" cy="588.91" r="6.1" fill="#52ffa5"/>
<circle cx="1384.33" cy="588.91" r="6.1" fill="#63ff94"/>
<circle cx="1395.82" cy="588.91" r="6.1" fill="#6bff8c"/>
<circle cx="1407.31" cy="588.91" r="6.1" fill="#a5ff52"/>
<circle cx="1418.80" cy="588.91" r="6.1" fill="#a5ff52"/>
<circle cx="1430.29" cy="588.91" r="6.1" fill="#a5ff52"/>
<circle cx="1441.78" cy="588.91" r="6.1" fill="#a5ff52"/>
<circle cx="1453.27" cy="588.91" r="6.1" fill="#f7f600"/>
<circle cx="1464.76" cy="588.91" r="6.1" fill="#9cff5a"/>
<circle cx="1476.25" cy="588.91" r="6.1" fill="#f7f600"/>
<circle cx="1487.74" cy="588.91" r="6.1" fill="#bdff3a"/>
<circle cx="1499.23" cy="588.91" r="6.1" fill="#ceff29"/>
<circle cx="1510.72" cy="588.91" r="6.1" fill="#ceff29"/>
<circle cx="1522.21" cy="588.91" r="6.1" fill="#ffd000"/>
<circle cx="1533.70" cy="588.91" r="6.1" fill="#ffa100"/>
<circle cx="1545.19" cy="588.91" r="6.1" fill="#f7f600"/>
<circle cx="1556.68" cy="588.91" r="6.1" fill="#ffd000"/>
<circle cx="1568.17" cy="588.91" r="6.1" fill="#d6ff21"/>
<circle cx="1579.66" cy="588.91" r="6.1" fill="#ceff29"/>
<circle cx="1591.15" cy="588.91" r="6.1" fill="#ffc600"/>
<circle cx="1602.64" cy="588.91" r="6.1" fill="#ffc600"/>
<circle cx="1614.13" cy="588.91" r="6.1" fill="#ffbd00"/>
<circle cx="1625.62" cy="588.91" r="6.1" fill="#adff4a"/>
<circle cx="1637.11" cy="588.91" r="6.1" fill="#adff4a"/>
<circle cx="1648.60" cy="588.91" r="6.1" fill="#ff8e00"/>
<circle cx="1660.09" cy="588.91" r="6.1" fill="#ffd000"/>
<circle cx="1683.07" cy="588.91" r="6.1" fill="#ff7b00"/>
<circle cx="1694.56" cy="588.91" r="6.1" fill="#f7f600"/>
<circle cx="1706.05" cy="588.91" r="6.1" fill="#ffd000"/>
<circle cx="1786.48" cy="588.91" r="6.1" fill="#800000"/>
<circle cx="1269.43" cy="577.01" r="6.1" fill="#002eff"/>
<circle cx="1280.92" cy="577.01" r="6.1" fill="#0075ff"/>
<circle cx="1292.41" cy="577.01" r="6.1" fill="#0080ff"/>
<circle cx="1303.90" cy="577.01" r="6.1" fill="#008aff"/>
<circle cx="1315.39" cy="577.01" r="6.1" fill="#00a8ff"/>
<circle cx="1326.88" cy="577.01" r="6.1" fill="#00bdff"/>
<circle cx="1338.37" cy="577.01" r="6.1" fill="#00c7ff"/>
<circle cx="1349.86" cy="577.01" r="6.1" fill="#00e5f7"/>
<circle cx="1361.35" cy="577.01" r="6.1" fill="#00dbff"/>
<circle cx="1372.84" cy="577.01" r="6.1" fill="#08f0ef"/>
<circle cx="1384.33" cy="577.01" r="6.1" fill="#08f0ef"/>
<circle cx="1395.82" cy="577.01" r="6.1" fill="#08f0ef"/>
<circle cx="1407.31" cy="577.01" r="6.1" fill="#52ffa5"/>
<circle cx="1418.80" cy="577.01" r="6.1" fill="#52ffa5"/>
<circle cx="1430.29" cy="577.01" r="6.1" fill="#7bff7b"/>
<circle cx="1441.78" cy="577.01" r="6.1" fill="#7bff7b"/>
<circle cx="1453.27" cy="577.01" r="6.1" fill="#7bff7b"/>
<circle cx="1464.76" cy="577.01" r="6.1" fill="#8cff6b"/>
<circle cx="1476.25" cy="577.01" r="6.1" fill="#8cff6b"/>
<circle cx="1487.74" cy="577.01" r="6.1" fill="#94ff63"/>
<circle cx="1499.23" cy="577.01" r="6.1" fill="#94ff63"/>
<circle cx="1510.72" cy="577.01" r="6.1" fill="#8cff6b"/>
<circle cx="1522.21" cy="577.01" r="6.1" fill="#8cff6b"/>
<circle cx="1533.70" cy="577.01" r="6.1" fill="#5aff9c"/>
<circle cx="1545.19" cy="577.01" r="6.1" fill="#ceff29"/>
<circle cx="1556.68" cy="577.01" r="6.1" fill="#deff19"/>
<circle cx="1568.17" cy="577.01" r="6.1" fill="#b5ff42"/>
<circle cx="1579.66" cy="577.01" r="6.1" fill="#b5ff42"/>
<circle cx="1591.15" cy="577.01" r="6.1" fill="#9cff5a"/>
<circle cx="1602.64" cy="577.01" r="6.1" fill="#ffa100"/>
<circle cx="1614.13" cy="577.01" r="6.1" fill="#d6ff21"/>
<circle cx="1625.62" cy="577.01" r="6.1" fill="#ffb300"/>
<circle cx="1637.11" cy="577.01" r="6.1" fill="#d6ff21"/>
<circle cx="1648.60" cy="577.01" r="6.1" fill="#ffd900"/>
<circle cx="1660.09" cy="577.01" r="6.1" fill="#ffd900"/>
<circle cx="1694.56" cy="577.01" r="6.1" fill="#7bff7b"/>
<circle cx="1774.99" cy="577.01" r="6.1" fill="#c50000"/>
<circle cx="1797.97" cy="577.01" r="6.1" fill="#ffa100"/>
<circle cx="1269.43" cy="565.12" r="6.1" fill="#0019ff"/>
<circle cx="1280.92" cy="565.12" r="6.1" fill="#0061ff"/>
<circle cx="1292.41" cy="565.12" r="6.1" fill="#006bff"/>
<circle cx="1303.90" cy="565.12" r="6.1" fill="#0075ff"/>
<circle cx="1315.39" cy="565.12" r="6.1" fill="#0080ff"/>
<circle cx="1326.88" cy="565.12" r="6.1" fill="#009eff"/>
<circle cx="1338.37" cy="565.12" r="6.1" fill="#00b2ff"/>
<circle cx="1349.86" cy="565.12" r="6.1" fill="#00b2ff"/>
<circle cx="1361.35" cy="565.12" r="6.1" fill="#00d1ff"/>
<circle cx="1372.84" cy="565.12" r="6.1" fill="#19ffde"/>
<circle cx="1384.33" cy="565.12" r="6.1" fill="#19ffde"/>
<circle cx="1395.82" cy="565.12" r="6.1" fill="#21ffd6"/>
<circle cx="1407.31" cy="565.12" r="6.1" fill="#42ffb5"/>
<circle cx="1418.80" cy="565.12" r="6.1" fill="#42ffb5"/>
<circle cx="1430.29" cy="565.12" r="6.1" fill="#5aff9c"/>
<circle cx="1441.78" cy="565.12" r="6.1" fill="#5aff9c"/>
<circle cx="1453.27" cy="565.12" r="6.1" fill="#5aff9c"/>
<circle cx="1464.76" cy="565.12" r="6.1" fill="#7bff7b"/>
<circle cx="1476.25" cy="565.12" r="6.1" fill="#6bff8c"/>
<circle cx="1487.74" cy="565.12" r="6.1" fill="#8cff6b"/>
<circle cx="1499.23" cy="565.12" r="6.1" fill="#94ff63"/>
<circle cx="1510.72" cy="565.12" r="6.1" fill="#bdff3a"/>
<circle cx="1522.21" cy="565.12" r="6.1" fill="#7bff7b"/>
<circle cx="1533.70" cy="565.12" r="6.1" fill="#a5ff52"/>
<circle cx="1545.19" cy="565.12" r="6.1" fill="#a5ff52"/>
<circle cx="1556.68" cy="565.12" r="6.1" fill="#52ffa5"/>
<circle cx="1568.17" cy="565.12" r="6.1" fill="#ffd000"/>
<circle cx="1579.66" cy="565.12" r="6.1" fill="#ffaa00"/>
<circle cx="1591.15" cy="565.12" r="6.1" fill="#efff08"/>
<circle cx="1625.62" cy="565.12" r="6.1" fill="#ffd000"/>
<circle cx="1648.60" cy="565.12" r="6.1" fill="#ff7100"/>
<circle cx="1660.09" cy="565.12" r="6.1" fill="#f7f600"/>
<circle cx="1257.94" cy="553.23" r="6.1" fill="#0000cc"/>
<circle cx="1269.43" cy="553.23" r="6.1" fill="#0000ff"/>
<circle cx="1280.92" cy="553.23" r="6.1" fill="#0011ff"/>
<circle cx="1292.41" cy="553.23" r="6.1" fill="#001cff"/>
<circle cx="1303.90" cy="553.23" r="6.1" fill="#0032ff"/>
<circle cx="1315.39" cy="553.23" r="6.1" fill="#004cff"/>
<circle cx="1326.88" cy="553.23" r="6.1" fill="#004bff"/>
<circle cx="1338.37" cy="553.23" r="6.1" fill="#0062ff"/>
<circle cx="1349.86" cy="553.23" r="6.1" fill="#007dff"/>
<circle cx="1361.35" cy="553.23" r="6.1" fill="#0098ff"/>
<circle cx="1372.84" cy="553.23" r="6.1" fill="#00baff"/>
<circle cx="1384.33" cy="553.23" r="6.1" fill="#00cdff"/>
<circle cx="1395.82" cy="553.23" r="6.1" fill="#00d8ff"/>
<circle cx="1407.31" cy="553.23" r="6.1" fill="#10f9e7"/>
<circle cx="1418.80" cy="553.23" r="6.1" fill="#1dffda"/>
<circle cx="1430.29" cy="553.23" r="6.1" fill="#27ffd0"/>
<circle cx="1441.78" cy="553.23" r="6.1" fill="#3dffba"/>
<circle cx="1453.27" cy="553.23" r="6.1" fill="#3affbd"/>
<circle cx="1464.76" cy="553.23" r="6.1" fill="#33ffc4"/>
<circle cx="1476.25" cy="553.23" r="6.1" fill="#48ffae"/>
<circle cx="1487.74" cy="553.23" r="6.1" fill="#64ff93"/>
<circle cx="1499.23" cy="553.23" r="6.1" fill="#57ffa0"/>
<circle cx="1510.72" cy="553.23" r="6.1" fill="#19ffde"/>
<circle cx="1522.21" cy="553.23" r="6.1" fill="#7bff7b"/>
<circle cx="1533.70" cy="553.23" r="6.1" fill="#73ff84"/>
<circle cx="1556.68" cy="553.23" r="6.1" fill="#a5ff52"/>
<circle cx="1568.17" cy="553.23" r="6.1" fill="#5aff9c"/>
<circle cx="1579.66" cy="553.23" r="6.1" fill="#ffb300"/>
<circle cx="1591.15" cy="553.23" r="6.1" fill="#ffd000"/>
<circle cx="1614.13" cy="553.23" r="6.1" fill="#84ff73"/>
<circle cx="1625.62" cy="553.23" r="6.1" fill="#ff7b00"/>
<circle cx="1637.11" cy="553.23" r="6.1" fill="#ffd000"/>
<circle cx="1257.94" cy="541.34" r="6.1" fill="#0000cc"/>
<circle cx="1269.43" cy="541.34" r="6.1" fill="#0000f4"/>
<circle cx="1280.92" cy="541.34" r="6.1" fill="#001aff"/>
<circle cx="1292.41" cy="541.34" r="6.1" fill="#0018ff"/>
<circle cx="1303.90" cy="541.34" r="6.1" fill="#0056ff"/>
<circle cx="1315.39" cy="541.34" r="6.1" fill="#0036ff"/>
<circle cx="1326.88" cy="541.34" r="6.1" fill="#0050ff"/>
<circle cx="1338.37" cy="541.34" r="6.1" fill="#0059ff"/>
<circle cx="1349.86" cy="541.34" r="6.1" fill="#007eff"/>
<circle cx="1361.35" cy="541.34" r="6.1" fill="#009eff"/>
<circle cx="1372.84" cy="541.34" r="6.1" fill="#00bbff"/>
<circle cx="1384.33" cy="541.34" r="6.1" fill="#00c3ff"/>
<circle cx="1395.82" cy="541.34" r="6.1" fill="#06edf1"/>
<circle cx="1407.31" cy="541.34" r="6.1" fill="#09f1ee"/>
<circle cx="1418.80" cy="541.34" r="6.1" fill="#0ff8e8"/>
<circle cx="1430.29" cy="541.34" r="6.1" fill="#34ffc3"/>
<circle cx="1441.78" cy="541.34" r="6.1" fill="#3dffba"/>
<circle cx="1453.27" cy="541.34" r="6.1" fill="#4dffaa"/>
<circle cx="1464.76" cy="541.34" r="6.1" fill="#3cffba"/>
<circle cx="1476.25" cy="541.34" r="6.1" fill="#46ffb0"/>
<circle cx="1487.74" cy="541.34" r="6.1" fill="#60ff97"/>
<circle cx="1499.23" cy="541.34" r="6.1" fill="#62ff94"/>
<circle cx="1510.72" cy="541.34" r="6.1" fill="#63ff94"/>
<circle cx="1522.21" cy="541.34" r="6.1" fill="#42ffb5"/>
<circle cx="1568.17" cy="541.34" r="6.1" fill="#b5ff42"/>
<circle cx="1257.94" cy="529.45" r="6.1" fill="#0000c7"/>
<circle cx="1269.43" cy="529.45" r="6.1" fill="#0000ea"/>
<circle cx="1280.92" cy="529.45" r="6.1" fill="#0000fb"/>
<circle cx="1292.41" cy="529.45" r="6.1" fill="#000fff"/>
<circle cx="1303.90" cy="529.45" r="6.1" fill="#0025ff"/>
<circle cx="1315.39" cy="529.45" r="6.1" fill="#003cff"/>
<circle cx="1326.88" cy="529.45" r="6.1" fill="#0068ff"/>
<circle cx="1338.37" cy="529.45" r="6.1" fill="#006fff"/>
<circle cx="1349.86" cy="529.45" r="6.1" fill="#0078ff"/>
<circle cx="1361.35" cy="529.45" r="6.1" fill="#0080ff"/>
<circle cx="1372.84" cy="529.45" r="6.1" fill="#0093ff"/>
<circle cx="1384.33" cy="529.45" r="6.1" fill="#00bbff"/>
<circle cx="1395.82" cy="529.45" r="6.1" fill="#00c4ff"/>
<circle cx="1407.31" cy="529.45" r="6.1" fill="#07eef0"/>
<circle cx="1418.80" cy="529.45" r="6.1" fill="#27ffd0"/>
<circle cx="1430.29" cy="529.45" r="6.1" fill="#2affcc"/>
<circle cx="1441.78" cy="529.45" r="6.1" fill="#21ffd5"/>
<circle cx="1453.27" cy="529.45" r="6.1" fill="#41ffb6"/>
<circle cx="1464.76" cy="529.45" r="6.1" fill="#36ffc1"/>
<circle cx="1476.25" cy="529.45" r="6.1" fill="#63ff94"/>
<circle cx="1487.74" cy="529.45" r="6.1" fill="#8cff6b"/>
<circle cx="1257.94" cy="517.55" r="6.1" fill="#0000c7"/>
<circle cx="1269.43" cy="517.55" r="6.1" fill="#0000ee"/>
<circle cx="1280.92" cy="517.55" r="6.1" fill="#0000ff"/>
<circle cx="1292.41" cy="517.55" r="6.1" fill="#0020ff"/>
<circle cx="1303.90" cy="517.55" r="6.1" fill="#004aff"/>
<circle cx="1315.39" cy="517.55" r="6.1" fill="#0042ff"/>
<circle cx="1326.88" cy="517.55" r="6.1" fill="#006bff"/>
<circle cx="1338.37" cy="517.55" r="6.1" fill="#0072ff"/>
<circle cx="1349.86" cy="517.55" r="6.1" fill="#007fff"/>
<circle cx="1361.35" cy="517.55" r="6.1" fill="#0085ff"/>
<circle cx="1372.84" cy="517.55" r="6.1" fill="#009fff"/>
<circle cx="1384.33" cy="517.55" r="6.1" fill="#00b6ff"/>
<circle cx="1395.82" cy="517.55" r="6.1" fill="#00c2ff"/>
<circle cx="1407.31" cy="517.55" r="6.1" fill="#00e1fa"/>
<circle cx="1418.80" cy="517.55" r="6.1" fill="#12fbe5"/>
<circle cx="1430.29" cy="517.55" r="6.1" fill="#17ffe0"/>
<circle cx="1441.78" cy="517.55" r="6.1" fill="#3effb8"/>
<circle cx="1453.27" cy="517.55" r="6.1" fill="#3cffbb"/>
<circle cx="1487.74" cy="517.55" r="6.1" fill="#ceff29"/>
<circle cx="1499.23" cy="517.55" r="6.1" fill="#a5ff52"/>
<circle cx="1510.72" cy="517.55" r="6.1" fill="#ffd900"/>
<circle cx="1257.94" cy="505.66" r="6.1" fill="#0000c9"/>
<circle cx="1269.43" cy="505.66" r="6.1" fill="#0000e7"/>
<circle cx="1280.92" cy="505.66" r="6.1" fill="#0000ff"/>
<circle cx="1292.41" cy="505.66" r="6.1" fill="#0025ff"/>
<circle cx="1303.90" cy="505.66" r="6.1" fill="#0051ff"/>
<circle cx="1315.39" cy="505.66" r="6.1" fill="#0036ff"/>
<circle cx="1326.88" cy="505.66" r="6.1" fill="#005eff"/>
<circle cx="1338.37" cy="505.66" r="6.1" fill="#0073ff"/>
<circle cx="1349.86" cy="505.66" r="6.1" fill="#007fff"/>
<circle cx="1361.35" cy="505.66" r="6.1" fill="#009cff"/>
<circle cx="1372.84" cy="505.66" r="6.1" fill="#00bfff"/>
<circle cx="1384.33" cy="505.66" r="6.1" fill="#00c6ff"/>
<circle cx="1395.82" cy="505.66" r="6.1" fill="#04eaf3"/>
<circle cx="1407.31" cy="505.66" r="6.1" fill="#19ffde"/>
<circle cx="1418.80" cy="505.66" r="6.1" fill="#1fffd8"/>
<circle cx="1430.29" cy="505.66" r="6.1" fill="#35ffc2"/>
<circle cx="1499.23" cy="505.66" r="6.1" fill="#a5ff52"/>
<circle cx="1510.72" cy="505.66" r="6.1" fill="#7bff7b"/>
<circle cx="1257.94" cy="493.77" r="6.1" fill="#0000af"/>
<circle cx="1269.43" cy="493.77" r="6.1" fill="#0000cd"/>
<circle cx="1280.92" cy="493.77" r="6.1" fill="#0000db"/>
<circle cx="1292.41" cy="493.77" r="6.1" fill="#0000ff"/>
<circle cx="1303.90" cy="493.77" r="6.1" fill="#001bff"/>
<circle cx="1315.39" cy="493.77" r="6.1" fill="#0038ff"/>
<circle cx="1326.88" cy="493.77" r="6.1" fill="#0063ff"/>
<circle cx="1338.37" cy="493.77" r="6.1" fill="#005bff"/>
<circle cx="1349.86" cy="493.77" r="6.1" fill="#0067ff"/>
<circle cx="1361.35" cy="493.77" r="6.1" fill="#008bff"/>
<circle cx="1372.84" cy="493.77" r="6.1" fill="#00b1ff"/>
<circle cx="1384.33" cy="493.77" r="6.1" fill="#00baff"/>
<circle cx="1395.82" cy="493.77" r="6.1" fill="#06edf1"/>
<circle cx="1407.31" cy="493.77" r="6.1" fill="#07efef"/>
<circle cx="1430.29" cy="493.77" r="6.1" fill="#25ffd2"/>
<circle cx="1453.27" cy="493.77" r="6.1" fill="#2cffcb"/>
<circle cx="1487.74" cy="493.77" r="6.1" fill="#5dff9a"/>
<circle cx="1499.23" cy="493.77" r="6.1" fill="#54ffa3"/>
<circle cx="1257.94" cy="481.88" r="6.1" fill="#0000a6"/>
<circle cx="1269.43" cy="481.88" r="6.1" fill="#0000dc"/>
<circle cx="1280.92" cy="481.88" r="6.1" fill="#0000f7"/>
<circle cx="1292.41" cy="481.88" r="6.1" fill="#0000ff"/>
<circle cx="1303.90" cy="481.88" r="6.1" fill="#001cff"/>
<circle cx="1315.39" cy="481.88" r="6.1" fill="#003eff"/>
<circle cx="1326.88" cy="481.88" r="6.1" fill="#0060ff"/>
<circle cx="1338.37" cy="481.88" r="6.1" fill="#0052ff"/>
<circle cx="1349.86" cy="481.88" r="6.1" fill="#0068ff"/>
<circle cx="1361.35" cy="481.88" r="6.1" fill="#00a1ff"/>
<circle cx="1372.84" cy="481.88" r="6.1" fill="#00a7ff"/>
<circle cx="1384.33" cy="481.88" r="6.1" fill="#00d8ff"/>
<circle cx="1395.82" cy="481.88" r="6.1" fill="#00d2ff"/>
<circle cx="1418.80" cy="481.88" r="6.1" fill="#24ffd3"/>
<circle cx="1430.29" cy="481.88" r="6.1" fill="#1dffda"/>
<circle cx="1464.76" cy="481.88" r="6.1" fill="#34ffc2"/>
<circle cx="1487.74" cy="481.88" r="6.1" fill="#6cff8b"/>
<circle cx="1246.45" cy="469.99" r="6.1" fill="#0000ab"/>
<circle cx="1257.94" cy="469.99" r="6.1" fill="#0000b8"/>
<circle cx="1269.43" cy="469.99" r="6.1" fill="#0000d1"/>
<circle cx="1280.92" cy="469.99" r="6.1" fill="#0000ff"/>
<circle cx="1292.41" cy="469.99" r="6.1" fill="#0000ff"/>
<circle cx="1303.90" cy="469.99" r="6.1" fill="#002cff"/>
<circle cx="1315.39" cy="469.99" r="6.1" fill="#0040ff"/>
<circle cx="1326.88" cy="469.99" r="6.1" fill="#003eff"/>
<circle cx="1338.37" cy="469.99" r="6.1" fill="#006fff"/>
<circle cx="1349.86" cy="469.99" r="6.1" fill="#008cff"/>
<circle cx="1361.35" cy="469.99" r="6.1" fill="#0086ff"/>
<circle cx="1372.84" cy="469.99" r="6.1" fill="#00b3ff"/>
<circle cx="1384.33" cy="469.99" r="6.1" fill="#29ffce"/>
<circle cx="1395.82" cy="469.99" r="6.1" fill="#00d7ff"/>
<circle cx="1407.31" cy="469.99" r="6.1" fill="#15ffe1"/>
<circle cx="1476.25" cy="469.99" r="6.1" fill="#40ffb7"/>
<circle cx="1499.23" cy="469.99" r="6.1" fill="#6dff8a"/>
<circle cx="1257.94" cy="458.09" r="6.1" fill="#0000b1"/>
<circle cx="1269.43" cy="458.09" r="6.1" fill="#0000c4"/>
<circle cx="1280.92" cy="458.09" r="6.1" fill="#0000f9"/>
<circle cx="1292.41" cy="458.09" r="6.1" fill="#000eff"/>
<circle cx="1303.90" cy="458.09" r="6.1" fill="#0009ff"/>
<circle cx="1315.39" cy="458.09" r="6.1" fill="#0034ff"/>
<circle cx="1326.88" cy="458.09" r="6.1" fill="#0055ff"/>
<circle cx="1338.37" cy="458.09" r="6.1" fill="#007aff"/>
<circle cx="1349.86" cy="458.09" r="6.1" fill="#0073ff"/>
<circle cx="1361.35" cy="458.09" r="6.1" fill="#009eff"/>
<circle cx="1384.33" cy="458.09" r="6.1" fill="#00dbff"/>
<circle cx="1395.82" cy="458.09" r="6.1" fill="#00c6ff"/>
<circle cx="1407.31" cy="458.09" r="6.1" fill="#16ffe1"/>
<circle cx="1418.80" cy="458.09" r="6.1" fill="#16ffe1"/>
<circle cx="1430.29" cy="458.09" r="6.1" fill="#23ffd4"/>
<circle cx="1453.27" cy="458.09" r="6.1" fill="#2fffc8"/>
<circle cx="1476.25" cy="458.09" r="6.1" fill="#39ffbe"/>
<circle cx="1499.23" cy="458.09" r="6.1" fill="#53ffa4"/>
<circle cx="1257.94" cy="446.20" r="6.1" fill="#0000a9"/>
<circle cx="1269.43" cy="446.20" r="6.1" fill="#0000df"/>
<circle cx="1280.92" cy="446.20" r="6.1" fill="#0000ef"/>
<circle cx="1292.41" cy="446.20" r="6.1" fill="#0000ff"/>
<circle cx="1303.90" cy="446.20" r="6.1" fill="#002cff"/>
<circle cx="1315.39" cy="446.20" r="6.1" fill="#0057ff"/>
<circle cx="1326.88" cy="446.20" r="6.1" fill="#005eff"/>
<circle cx="1338.37" cy="446.20" r="6.1" fill="#007aff"/>
<circle cx="1349.86" cy="446.20" r="6.1" fill="#005dff"/>
<circle cx="1384.33" cy="446.20" r="6.1" fill="#00b7ff"/>
<circle cx="1395.82" cy="446.20" r="6.1" fill="#0cf4eb"/>
<circle cx="1407.31" cy="446.20" r="6.1" fill="#0bf3ec"/>
<circle cx="1476.25" cy="446.20" r="6.1" fill="#56ffa1"/>
<circle cx="1257.94" cy="434.31" r="6.1" fill="#0000be"/>
<circle cx="1269.43" cy="434.31" r="6.1" fill="#0000f1"/>
<circle cx="1280.92" cy="434.31" r="6.1" fill="#0000d7"/>
<circle cx="1292.41" cy="434.31" r="6.1" fill="#0000ff"/>
<circle cx="1303.90" cy="434.31" r="6.1" fill="#002bff"/>
<circle cx="1315.39" cy="434.31" r="6.1" fill="#0032ff"/>
<circle cx="1326.88" cy="434.31" r="6.1" fill="#0052ff"/>
<circle cx="1338.37" cy="434.31" r="6.1" fill="#0058ff"/>
<circle cx="1361.35" cy="434.31" r="6.1" fill="#009bff"/>
<circle cx="1372.84" cy="434.31" r="6.1" fill="#009aff"/>
<circle cx="1384.33" cy="434.31" r="6.1" fill="#00c0ff"/>
<circle cx="1395.82" cy="434.31" r="6.1" fill="#05ecf2"/>
<circle cx="1418.80" cy="434.31" r="6.1" fill="#23ffd4"/>
<circle cx="1430.29" cy="434.31" r="6.1" fill="#34ffc3"/>
<circle cx="1257.94" cy="422.42" r="6.1" fill="#0000b9"/>
<circle cx="1269.43" cy="422.42" r="6.1" fill="#0000d1"/>
<circle cx="1280.92" cy="422.42" r="6.1" fill="#0000da"/>
<circle cx="1292.41" cy="422.42" r="6.1" fill="#0000f3"/>
<circle cx="1303.90" cy="422.42" r="6.1" fill="#000fff"/>
<circle cx="1315.39" cy="422.42" r="6.1" fill="#004dff"/>
<circle cx="1326.88" cy="422.42" r="6.1" fill="#0042ff"/>
<circle cx="1338.37" cy="422.42" r="6.1" fill="#008aff"/>
<circle cx="1349.86" cy="422.42" r="6.1" fill="#004dff"/>
<circle cx="1361.35" cy="422.42" r="6.1" fill="#0080ff"/>
<circle cx="1372.84" cy="422.42" r="6.1" fill="#008aff"/>
<circle cx="1384.33" cy="422.42" r="6.1" fill="#00dbff"/>
<circle cx="1407.31" cy="422.42" r="6.1" fill="#42ffb5"/>
<circle cx="1257.94" cy="410.53" r="6.1" fill="#0000b4"/>
<circle cx="1269.43" cy="410.53" r="6.1" fill="#0000cb"/>
<circle cx="1280.92" cy="410.53" r="6.1" fill="#0000da"/>
<circle cx="1292.41" cy="410.53" r="6.1" fill="#0000ee"/>
<circle cx="1303.90" cy="410.53" r="6.1" fill="#0000f9"/>
<circle cx="1315.39" cy="410.53" r="6.1" fill="#006bff"/>
<circle cx="1326.88" cy="410.53" r="6.1" fill="#0094ff"/>
<circle cx="1338.37" cy="410.53" r="6.1" fill="#0042ff"/>
<circle cx="1349.86" cy="410.53" r="6.1" fill="#0070ff"/>
<circle cx="1361.35" cy="410.53" r="6.1" fill="#002eff"/>
<circle cx="1372.84" cy="410.53" r="6.1" fill="#00a8ff"/>
<circle cx="1384.33" cy="410.53" r="6.1" fill="#00a3ff"/>
<circle cx="1257.94" cy="398.63" r="6.1" fill="#000080"/>
<circle cx="1269.43" cy="398.63" r="6.1" fill="#0000d1"/>
<circle cx="1280.92" cy="398.63" r="6.1" fill="#0000f3"/>
<circle cx="1292.41" cy="398.63" r="6.1" fill="#002eff"/>
<circle cx="1303.90" cy="398.63" r="6.1" fill="#0024ff"/>
<circle cx="1315.39" cy="398.63" r="6.1" fill="#0061ff"/>
<circle cx="1326.88" cy="398.63" r="6.1" fill="#005cff"/>
<circle cx="1338.37" cy="398.63" r="6.1" fill="#004dff"/>
<circle cx="1349.86" cy="398.63" r="6.1" fill="#0094ff"/>
<circle cx="1361.35" cy="398.63" r="6.1" fill="#009eff"/>
<circle cx="1384.33" cy="398.63" r="6.1" fill="#00a8ff"/>
<circle cx="1395.82" cy="398.63" r="6.1" fill="#31ffc5"/>
<circle cx="1407.31" cy="398.63" r="6.1" fill="#00bdff"/>
<circle cx="1257.94" cy="386.74" r="6.1" fill="#0000b4"/>
<circle cx="1269.43" cy="386.74" r="6.1" fill="#0000cb"/>
<circle cx="1280.92" cy="386.74" r="6.1" fill="#0000e8"/>
<circle cx="1292.41" cy="386.74" r="6.1" fill="#0000f3"/>
<circle cx="1303.90" cy="386.74" r="6.1" fill="#000fff"/>
<circle cx="1315.39" cy="386.74" r="6.1" fill="#000fff"/>
<circle cx="1326.88" cy="386.74" r="6.1" fill="#000fff"/>
<circle cx="1338.37" cy="386.74" r="6.1" fill="#004dff"/>
<circle cx="1349.86" cy="386.74" r="6.1" fill="#006bff"/>
<circle cx="1361.35" cy="386.74" r="6.1" fill="#005cff"/>
<circle cx="1384.33" cy="386.74" r="6.1" fill="#00b8ff"/>
<circle cx="1269.43" cy="374.85" r="6.1" fill="#0000d1"/>
<circle cx="1280.92" cy="374.85" r="6.1" fill="#0000e2"/>
<circle cx="1292.41" cy="374.85" r="6.1" fill="#0000e2"/>
<circle cx="1303.90" cy="374.85" r="6.1" fill="#004dff"/>
<circle cx="1315.39" cy="374.85" r="6.1" fill="#004dff"/>
<circle cx="1326.88" cy="374.85" r="6.1" fill="#0057ff"/>
<circle cx="1349.86" cy="374.85" r="6.1" fill="#00a3ff"/>
<circle cx="1372.84" cy="374.85" r="6.1" fill="#00dbff"/>
<circle cx="1257.94" cy="362.96" r="6.1" fill="#0000ae"/>
<circle cx="1269.43" cy="362.96" r="6.1" fill="#0000b9"/>
<circle cx="1280.92" cy="362.96" r="6.1" fill="#0000cb"/>
<circle cx="1292.41" cy="362.96" r="6.1" fill="#0000f3"/>
<circle cx="1303.90" cy="362.96" r="6.1" fill="#001fff"/>
<circle cx="1315.39" cy="362.96" r="6.1" fill="#000fff"/>
<circle cx="1326.88" cy="362.96" r="6.1" fill="#0042ff"/>
<circle cx="1338.37" cy="362.96" r="6.1" fill="#005cff"/>
<circle cx="1349.86" cy="362.96" r="6.1" fill="#00b8ff"/>
<circle cx="1372.84" cy="362.96" r="6.1" fill="#31ffc5"/>
<circle cx="1395.82" cy="362.96" r="6.1" fill="#00c7ff"/>
<circle cx="1257.94" cy="351.07" r="6.1" fill="#00008b"/>
<circle cx="1269.43" cy="351.07" r="6.1" fill="#0000cb"/>
<circle cx="1280.92" cy="351.07" r="6.1" fill="#0000d1"/>
<circle cx="1292.41" cy="351.07" r="6.1" fill="#0000ee"/>
<circle cx="1303.90" cy="351.07" r="6.1" fill="#002eff"/>
<circle cx="1315.39" cy="351.07" r="6.1" fill="#002eff"/>
<circle cx="1326.88" cy="351.07" r="6.1" fill="#0094ff"/>
<circle cx="1349.86" cy="351.07" r="6.1" fill="#0070ff"/>
<circle cx="1269.43" cy="339.17" r="6.1" fill="#0000b9"/>
<circle cx="1280.92" cy="339.17" r="6.1" fill="#0000f9"/>
<circle cx="1292.41" cy="339.17" r="6.1" fill="#0000ee"/>
<circle cx="1303.90" cy="339.17" r="6.1" fill="#0000f9"/>
<circle cx="1315.39" cy="339.17" r="6.1" fill="#002eff"/>
<circle cx="1326.88" cy="339.17" r="6.1" fill="#0057ff"/>
<circle cx="1338.37" cy="339.17" r="6.1" fill="#0070ff"/>
<circle cx="1361.35" cy="339.17" r="6.1" fill="#00d6ff"/>
<circle cx="1372.84" cy="339.17" r="6.1" fill="#00a3ff"/>
<circle cx="1384.33" cy="339.17" r="6.1" fill="#008aff"/>
<circle cx="1257.94" cy="327.28" r="6.1" fill="#0000b4"/>
<circle cx="1269.43" cy="327.28" r="6.1" fill="#0000b9"/>
<circle cx="1280.92" cy="327.28" r="6.1" fill="#0061ff"/>
<circle cx="1292.41" cy="327.28" r="6.1" fill="#0000cb"/>
<circle cx="1315.39" cy="327.28" r="6.1" fill="#001fff"/>
<circle cx="1326.88" cy="327.28" r="6.1" fill="#0094ff"/>
<circle cx="1269.43" cy="315.39" r="6.1" fill="#0000bf"/>
<circle cx="1280.92" cy="315.39" r="6.1" fill="#0000bf"/>
<circle cx="1292.41" cy="315.39" r="6.1" fill="#0000bf"/>
<circle cx="1303.90" cy="315.39" r="6.1" fill="#0000f9"/>
<circle cx="1315.39" cy="315.39" r="6.1" fill="#002eff"/>
<circle cx="1326.88" cy="315.39" r="6.1" fill="#0042ff"/>
<circle cx="1338.37" cy="315.39" r="6.1" fill="#006bff"/>
<circle cx="1349.86" cy="315.39" r="6.1" fill="#0042ff"/>
<circle cx="1292.41" cy="303.50" r="6.1" fill="#0000f3"/>
<circle cx="1303.90" cy="303.50" r="6.1" fill="#0000f3"/>
<circle cx="1315.39" cy="303.50" r="6.1" fill="#0000f9"/>
<circle cx="1269.43" cy="291.61" r="6.1" fill="#0000b4"/>
<circle cx="1280.92" cy="291.61" r="6.1" fill="#0000f9"/>
<circle cx="1292.41" cy="291.61" r="6.1" fill="#0000ee"/>
<circle cx="1257.94" cy="279.71" r="6.1" fill="#000080"/>
<circle cx="1269.43" cy="279.71" r="6.1" fill="#0000ae"/>
<circle cx="1280.92" cy="279.71" r="6.1" fill="#0000e8"/>
<circle cx="1292.41" cy="279.71" r="6.1" fill="#0000f3"/>
<circle cx="1303.90" cy="279.71" r="6.1" fill="#0000f9"/>
<circle cx="1338.37" cy="279.71" r="6.1" fill="#0057ff"/>
<circle cx="1269.43" cy="267.82" r="6.1" fill="#0000bf"/>
<circle cx="1292.41" cy="267.82" r="6.1" fill="#0000f3"/>
<circle cx="1303.90" cy="267.82" r="6.1" fill="#0000f9"/>
<circle cx="1315.39" cy="267.82" r="6.1" fill="#002eff"/>
<circle cx="1257.94" cy="255.93" r="6.1" fill="#0000ae"/>
<circle cx="1280.92" cy="255.93" r="6.1" fill="#000fff"/>
<circle cx="1303.90" cy="255.93" r="6.1" fill="#0000f3"/>
<circle cx="1315.39" cy="255.93" r="6.1" fill="#0000f3"/>
<circle cx="1292.41" cy="244.04" r="6.1" fill="#0000ee"/>
<circle cx="1303.90" cy="244.04" r="6.1" fill="#0000f9"/>
<circle cx="1349.86" cy="244.04" r="6.1" fill="#0042ff"/>
<circle cx="1269.43" cy="232.15" r="6.1" fill="#0000b9"/>
<circle cx="1280.92" cy="232.15" r="6.1" fill="#0000ff"/>
<circle cx="1303.90" cy="232.15" r="6.1" fill="#0000f9"/>
<circle cx="1269.43" cy="220.25" r="6.1" fill="#0000ae"/>
<circle cx="1280.92" cy="208.36" r="6.1" fill="#0000b9"/>
<circle cx="1292.41" cy="208.36" r="6.1" fill="#0000e2"/>
<circle cx="1292.41" cy="196.47" r="6.1" fill="#0000e2"/>
<circle cx="1303.90" cy="196.47" r="6.1" fill="#0014ff"/>
<circle cx="1315.39" cy="196.47" r="6.1" fill="#000fff"/>
<circle cx="1303.90" cy="184.58" r="6.1" fill="#0000f9"/>
<circle cx="1292.41" cy="172.69" r="6.1" fill="#0000f3"/>
<circle cx="1303.90" cy="172.69" r="6.1" fill="#0000e2"/>
<circle cx="1303.90" cy="160.79" r="6.1" fill="#0000ee"/>
<circle cx="1269.43" cy="148.90" r="6.1" fill="#0000b9"/>
<circle cx="1280.92" cy="148.90" r="6.1" fill="#0000f9"/>
<circle cx="1280.92" cy="125.12" r="6.1" fill="#0000cb"/>
<circle cx="1326.88" cy="113.23" r="6.1" fill="#0024ff"/>
<circle cx="1303.90" cy="77.55" r="6.1" fill="#0000e2"/>
</g>
<rect x="1223.35" y="6.32" width="597.70" height="618.11" fill="none" stroke="#000" stroke-width="2.67"/>
<text x="1234.96" y="673.43" text-anchor="middle">0.0</text>
<text x="1378.58" y="673.43" text-anchor="middle">2.5</text>
<text x="1522.21" y="673.43" text-anchor="middle">5.0</text>
<text x="1665.83" y="673.43" text-anchor="middle">7.5</text>
<text x="1809.46" y="673.43" text-anchor="middle">10.0</text>
<text x="1200.05" y="625.19" text-anchor="end">0.0</text>
<text x="1200.05" y="506.27" text-anchor="end">0.2</text>
<text x="1200.05" y="387.35" text-anchor="end">0.4</text>
<text x="1200.05" y="268.43" text-anchor="end">0.6</text>
<text x="1200.05" y="149.51" text-anchor="end">0.8</text>
<text x="1200.05" y="30.59" text-anchor="end">1.0</text>
<rect x="1858.40" y="6.32" width="30.79" height="618.11" fill="url(#jet)" stroke="#000" stroke-width="2.67"/>
<text x="1912.59" y="566.56">10</text>
<text x="1912.59" y="445.46">20</text>
<text x="1912.59" y="324.36">30</text>
<text x="1912.59" y="203.25">40</text>
<text x="1912.59" y="82.15">50</text>
<path d="M1234.96 624.43v11.67M1378.58 624.43v11.67M1522.21 624.43v11.67M1665.83 624.43v11.67M1809.46 624.43v11.67M1223.35 612.69h-11.67M1223.35 493.77h-11.67M1223.35 374.85h-11.67M1223.35 255.93h-11.67M1223.35 137.01h-11.67M1223.35 18.09h-11.67M1889.19 553.46h11.67M1889.19 432.36h11.67M1889.19 311.26h11.67M1889.19 190.15h11.67M1889.19 69.05h11.67" stroke="#000" stroke-width="2.67" fill="none"/>
<text x="1520.70" y="723.83" text-anchor="middle" letter-spacing="0.180">1/Density, cm<tspan font-size="23.33" dy="-13.80">3</tspan><tspan dy="13.80" dx="1.60">g</tspan><tspan font-size="23.33" dy="-13.80">−1</tspan></text>
<text transform="translate(1123.35 318.38) rotate(-90)" text-anchor="middle" letter-spacing="0.000">Thermal Conductivity, Wm<tspan font-size="23.33" dy="-13.80">−1</tspan><tspan dy="13.80" dx="3.20">K</tspan><tspan font-size="23.33" dy="-13.80">−1</tspan></text>
<text transform="translate(2000.40 315.38) rotate(-90)" text-anchor="middle" letter-spacing="0.000">Largest Pore Diameter, Å</text>
<text x="1040.40" y="38.00" font-family="'Liberation Sans', Arial, Helvetica, sans-serif" font-weight="bold" font-size="52">b</text>
</g>
<g id="panel-c">
<g stroke="none">
<circle cx="265.57" cy="1353.80" r="6.1" fill="#00bdff"/>
<circle cx="277.06" cy="1353.80" r="6.1" fill="#00c7ff"/>
<circle cx="288.55" cy="1353.80" r="6.1" fill="#00bdff"/>
<circle cx="300.04" cy="1353.80" r="6.1" fill="#21ffd6"/>
<circle cx="311.53" cy="1353.80" r="6.1" fill="#21ffd6"/>
<circle cx="323.02" cy="1353.80" r="6.1" fill="#21ffd6"/>
<circle cx="334.51" cy="1353.80" r="6.1" fill="#7bff7b"/>
<circle cx="346.00" cy="1353.80" r="6.1" fill="#52ffa5"/>
<circle cx="357.49" cy="1353.80" r="6.1" fill="#8cff6b"/>
<circle cx="368.98" cy="1353.80" r="6.1" fill="#63ff94"/>
<circle cx="380.47" cy="1353.80" r="6.1" fill="#a5ff52"/>
<circle cx="391.96" cy="1353.80" r="6.1" fill="#bdff3a"/>
<circle cx="403.45" cy="1353.80" r="6.1" fill="#ceff29"/>
<circle cx="414.94" cy="1353.80" r="6.1" fill="#e6ff10"/>
<circle cx="426.43" cy="1353.80" r="6.1" fill="#ffc600"/>
<circle cx="437.92" cy="1353.80" r="6.1" fill="#ceff29"/>
<circle cx="449.41" cy="1353.80" r="6.1" fill="#e6ff10"/>
<circle cx="460.90" cy="1353.80" r="6.1" fill="#ffb300"/>
<circle cx="472.39" cy="1353.80" r="6.1" fill="#ffc600"/>
<circle cx="483.88" cy="1353.80" r="6.1" fill="#ff8400"/>
<circle cx="506.86" cy="1353.80" r="6.1" fill="#ffd000"/>
<circle cx="518.35" cy="1353.80" r="6.1" fill="#ffbd00"/>
<circle cx="529.84" cy="1353.80" r="6.1" fill="#ffe300"/>
<circle cx="541.33" cy="1353.80" r="6.1" fill="#ffb300"/>
<circle cx="552.82" cy="1353.80" r="6.1" fill="#ffa100"/>
<circle cx="564.31" cy="1353.80" r="6.1" fill="#ff9700"/>
<circle cx="575.80" cy="1353.80" r="6.1" fill="#ffe300"/>
<circle cx="644.74" cy="1353.80" r="6.1" fill="#ff5e00"/>
<circle cx="679.21" cy="1353.80" r="6.1" fill="#ff8400"/>
<circle cx="713.68" cy="1353.80" r="6.1" fill="#ff5500"/>
<circle cx="231.10" cy="1341.91" r="6.1" fill="#004dff"/>
<circle cx="242.59" cy="1341.91" r="6.1" fill="#0019ff"/>
<circle cx="254.08" cy="1341.91" r="6.1" fill="#008aff"/>
<circle cx="265.57" cy="1341.91" r="6.1" fill="#00c7ff"/>
<circle cx="277.06" cy="1341.91" r="6.1" fill="#19ffde"/>
<circle cx="288.55" cy="1341.91" r="6.1" fill="#29ffce"/>
<circle cx="300.04" cy="1341.91" r="6.1" fill="#4affad"/>
<circle cx="311.53" cy="1341.91" r="6.1" fill="#5aff9c"/>
<circle cx="323.02" cy="1341.91" r="6.1" fill="#73ff84"/>
<circle cx="334.51" cy="1341.91" r="6.1" fill="#84ff73"/>
<circle cx="346.00" cy="1341.91" r="6.1" fill="#a5ff52"/>
<circle cx="357.49" cy="1341.91" r="6.1" fill="#b5ff42"/>
<circle cx="368.98" cy="1341.91" r="6.1" fill="#ceff29"/>
<circle cx="380.47" cy="1341.91" r="6.1" fill="#deff19"/>
<circle cx="391.96" cy="1341.91" r="6.1" fill="#efff08"/>
<circle cx="403.45" cy="1341.91" r="6.1" fill="#f7f600"/>
<circle cx="414.94" cy="1341.91" r="6.1" fill="#ceff29"/>
<circle cx="426.43" cy="1341.91" r="6.1" fill="#f7f600"/>
<circle cx="437.92" cy="1341.91" r="6.1" fill="#ffc600"/>
<circle cx="449.41" cy="1341.91" r="6.1" fill="#ffb300"/>
<circle cx="460.90" cy="1341.91" r="6.1" fill="#ffaa00"/>
<circle cx="472.39" cy="1341.91" r="6.1" fill="#ff8e00"/>
<circle cx="483.88" cy="1341.91" r="6.1" fill="#ffd900"/>
<circle cx="495.37" cy="1341.91" r="6.1" fill="#ff8400"/>
<circle cx="506.86" cy="1341.91" r="6.1" fill="#ff8400"/>
<circle cx="518.35" cy="1341.91" r="6.1" fill="#ff7b00"/>
<circle cx="529.84" cy="1341.91" r="6.1" fill="#ff7b00"/>
<circle cx="541.33" cy="1341.91" r="6.1" fill="#ff8e00"/>
<circle cx="552.82" cy="1341.91" r="6.1" fill="#ff5e00"/>
<circle cx="564.31" cy="1341.91" r="6.1" fill="#ff4c00"/>
<circle cx="575.80" cy="1341.91" r="6.1" fill="#ff4c00"/>
<circle cx="587.29" cy="1341.91" r="6.1" fill="#ff2f00"/>
<circle cx="598.78" cy="1341.91" r="6.1" fill="#ff3900"/>
<circle cx="610.27" cy="1341.91" r="6.1" fill="#ff2f00"/>
<circle cx="633.25" cy="1341.91" r="6.1" fill="#ff5e00"/>
<circle cx="644.74" cy="1341.91" r="6.1" fill="#f30900"/>
<circle cx="656.23" cy="1341.91" r="6.1" fill="#dc0000"/>
<circle cx="736.66" cy="1341.91" r="6.1" fill="#ff4c00"/>
<circle cx="219.61" cy="1330.01" r="6.1" fill="#0019ff"/>
<circle cx="231.10" cy="1330.01" r="6.1" fill="#004dff"/>
<circle cx="242.59" cy="1330.01" r="6.1" fill="#008aff"/>
<circle cx="254.08" cy="1330.01" r="6.1" fill="#00bdff"/>
<circle cx="265.57" cy="1330.01" r="6.1" fill="#00dbff"/>
<circle cx="277.06" cy="1330.01" r="6.1" fill="#29ffce"/>
<circle cx="288.55" cy="1330.01" r="6.1" fill="#42ffb5"/>
<circle cx="300.04" cy="1330.01" r="6.1" fill="#5aff9c"/>
<circle cx="311.53" cy="1330.01" r="6.1" fill="#7bff7b"/>
<circle cx="323.02" cy="1330.01" r="6.1" fill="#94ff63"/>
<circle cx="334.51" cy="1330.01" r="6.1" fill="#adff4a"/>
<circle cx="346.00" cy="1330.01" r="6.1" fill="#bdff3a"/>
<circle cx="357.49" cy="1330.01" r="6.1" fill="#ceff29"/>
<circle cx="368.98" cy="1330.01" r="6.1" fill="#ffe300"/>
<circle cx="380.47" cy="1330.01" r="6.1" fill="#efff08"/>
<circle cx="391.96" cy="1330.01" r="6.1" fill="#ffe300"/>
<circle cx="403.45" cy="1330.01" r="6.1" fill="#ffc600"/>
<circle cx="414.94" cy="1330.01" r="6.1" fill="#ffc600"/>
<circle cx="426.43" cy="1330.01" r="6.1" fill="#ffaa00"/>
<circle cx="437.92" cy="1330.01" r="6.1" fill="#ff9700"/>
<circle cx="449.41" cy="1330.01" r="6.1" fill="#ff7b00"/>
<circle cx="460.90" cy="1330.01" r="6.1" fill="#ff7b00"/>
<circle cx="472.39" cy="1330.01" r="6.1" fill="#ff8e00"/>
<circle cx="483.88" cy="1330.01" r="6.1" fill="#ff5500"/>
<circle cx="495.37" cy="1330.01" r="6.1" fill="#ff7100"/>
<circle cx="506.86" cy="1330.01" r="6.1" fill="#ff5e00"/>
<circle cx="518.35" cy="1330.01" r="6.1" fill="#ff4c00"/>
<circle cx="529.84" cy="1330.01" r="6.1" fill="#ff4c00"/>
<circle cx="541.33" cy="1330.01" r="6.1" fill="#ff2600"/>
<circle cx="552.82" cy="1330.01" r="6.1" fill="#ff5500"/>
<circle cx="564.31" cy="1330.01" r="6.1" fill="#ff2f00"/>
<circle cx="575.80" cy="1330.01" r="6.1" fill="#ff4200"/>
<circle cx="587.29" cy="1330.01" r="6.1" fill="#ff2600"/>
<circle cx="598.78" cy="1330.01" r="6.1" fill="#ff4200"/>
<circle cx="610.27" cy="1330.01" r="6.1" fill="#ff1300"/>
<circle cx="644.74" cy="1330.01" r="6.1" fill="#800000"/>
<circle cx="725.17" cy="1330.01" r="6.1" fill="#ff2600"/>
<circle cx="748.15" cy="1330.01" r="6.1" fill="#ae0000"/>
<circle cx="219.61" cy="1318.12" r="6.1" fill="#000fff"/>
<circle cx="231.10" cy="1318.12" r="6.1" fill="#004dff"/>
<circle cx="242.59" cy="1318.12" r="6.1" fill="#0094ff"/>
<circle cx="254.08" cy="1318.12" r="6.1" fill="#00c7ff"/>
<circle cx="265.57" cy="1318.12" r="6.1" fill="#10fae6"/>
<circle cx="277.06" cy="1318.12" r="6.1" fill="#31ffc5"/>
<circle cx="288.55" cy="1318.12" r="6.1" fill="#52ffa5"/>
<circle cx="300.04" cy="1318.12" r="6.1" fill="#73ff84"/>
<circle cx="311.53" cy="1318.12" r="6.1" fill="#8cff6b"/>
<circle cx="323.02" cy="1318.12" r="6.1" fill="#a5ff52"/>
<circle cx="334.51" cy="1318.12" r="6.1" fill="#bdff3a"/>
<circle cx="346.00" cy="1318.12" r="6.1" fill="#ceff29"/>
<circle cx="357.49" cy="1318.12" r="6.1" fill="#e6ff10"/>
<circle cx="368.98" cy="1318.12" r="6.1" fill="#ffd900"/>
<circle cx="380.47" cy="1318.12" r="6.1" fill="#ffc600"/>
<circle cx="391.96" cy="1318.12" r="6.1" fill="#ffb300"/>
<circle cx="403.45" cy="1318.12" r="6.1" fill="#ffa100"/>
<circle cx="414.94" cy="1318.12" r="6.1" fill="#ff8e00"/>
<circle cx="426.43" cy="1318.12" r="6.1" fill="#ff7b00"/>
<circle cx="437.92" cy="1318.12" r="6.1" fill="#ff8400"/>
<circle cx="449.41" cy="1318.12" r="6.1" fill="#ff7b00"/>
<circle cx="460.90" cy="1318.12" r="6.1" fill="#ff6800"/>
<circle cx="472.39" cy="1318.12" r="6.1" fill="#ff7b00"/>
<circle cx="483.88" cy="1318.12" r="6.1" fill="#ff5e00"/>
<circle cx="495.37" cy="1318.12" r="6.1" fill="#ff4200"/>
<circle cx="506.86" cy="1318.12" r="6.1" fill="#ff2600"/>
<circle cx="518.35" cy="1318.12" r="6.1" fill="#ff3900"/>
<circle cx="529.84" cy="1318.12" r="6.1" fill="#ff5e00"/>
<circle cx="541.33" cy="1318.12" r="6.1" fill="#ff3900"/>
<circle cx="575.80" cy="1318.12" r="6.1" fill="#ff4200"/>
<circle cx="598.78" cy="1318.12" r="6.1" fill="#ff4200"/>
<circle cx="610.27" cy="1318.12" r="6.1" fill="#ff2f00"/>
<circle cx="208.12" cy="1306.23" r="6.1" fill="#0000b9"/>
<circle cx="219.61" cy="1306.23" r="6.1" fill="#0005ff"/>
<circle cx="231.10" cy="1306.23" r="6.1" fill="#0061ff"/>
<circle cx="242.59" cy="1306.23" r="6.1" fill="#009eff"/>
<circle cx="254.08" cy="1306.23" r="6.1" fill="#00c7ff"/>
<circle cx="265.57" cy="1306.23" r="6.1" fill="#21ffd6"/>
<circle cx="277.06" cy="1306.23" r="6.1" fill="#4affad"/>
<circle cx="288.55" cy="1306.23" r="6.1" fill="#63ff94"/>
<circle cx="300.04" cy="1306.23" r="6.1" fill="#7bff7b"/>
<circle cx="311.53" cy="1306.23" r="6.1" fill="#94ff63"/>
<circle cx="323.02" cy="1306.23" r="6.1" fill="#bdff3a"/>
<circle cx="334.51" cy="1306.23" r="6.1" fill="#deff19"/>
<circle cx="346.00" cy="1306.23" r="6.1" fill="#efff08"/>
<circle cx="357.49" cy="1306.23" r="6.1" fill="#ffd900"/>
<circle cx="368.98" cy="1306.23" r="6.1" fill="#ffbd00"/>
<circle cx="380.47" cy="1306.23" r="6.1" fill="#ffaa00"/>
<circle cx="391.96" cy="1306.23" r="6.1" fill="#ff8e00"/>
<circle cx="403.45" cy="1306.23" r="6.1" fill="#ff7b00"/>
<circle cx="414.94" cy="1306.23" r="6.1" fill="#ff6800"/>
<circle cx="426.43" cy="1306.23" r="6.1" fill="#ff7100"/>
<circle cx="437.92" cy="1306.23" r="6.1" fill="#ff6800"/>
<circle cx="449.41" cy="1306.23" r="6.1" fill="#ff5e00"/>
<circle cx="460.90" cy="1306.23" r="6.1" fill="#ff7100"/>
<circle cx="472.39" cy="1306.23" r="6.1" fill="#ff7b00"/>
<circle cx="483.88" cy="1306.23" r="6.1" fill="#ff4c00"/>
<circle cx="506.86" cy="1306.23" r="6.1" fill="#ff1300"/>
<circle cx="518.35" cy="1306.23" r="6.1" fill="#ff1c00"/>
<circle cx="529.84" cy="1306.23" r="6.1" fill="#ff7100"/>
<circle cx="541.33" cy="1306.23" r="6.1" fill="#ff5e00"/>
<circle cx="564.31" cy="1306.23" r="6.1" fill="#ff2600"/>
<circle cx="575.80" cy="1306.23" r="6.1" fill="#ff3900"/>
<circle cx="587.29" cy="1306.23" r="6.1" fill="#ff4200"/>
<circle cx="208.12" cy="1294.34" r="6.1" fill="#000080"/>
<circle cx="219.61" cy="1294.34" r="6.1" fill="#0000c0"/>
<circle cx="231.10" cy="1294.34" r="6.1" fill="#0017ff"/>
<circle cx="242.59" cy="1294.34" r="6.1" fill="#006aff"/>
<circle cx="254.08" cy="1294.34" r="6.1" fill="#00b6ff"/>
<circle cx="265.57" cy="1294.34" r="6.1" fill="#1effd8"/>
<circle cx="277.06" cy="1294.34" r="6.1" fill="#46ffb1"/>
<circle cx="288.55" cy="1294.34" r="6.1" fill="#6bff8c"/>
<circle cx="300.04" cy="1294.34" r="6.1" fill="#96ff61"/>
<circle cx="311.53" cy="1294.34" r="6.1" fill="#b3ff44"/>
<circle cx="323.02" cy="1294.34" r="6.1" fill="#caff2d"/>
<circle cx="334.51" cy="1294.34" r="6.1" fill="#deff19"/>
<circle cx="346.00" cy="1294.34" r="6.1" fill="#ffaa00"/>
<circle cx="357.49" cy="1294.34" r="6.1" fill="#ffaa00"/>
<circle cx="368.98" cy="1294.34" r="6.1" fill="#ffaa00"/>
<circle cx="380.47" cy="1294.34" r="6.1" fill="#ffa100"/>
<circle cx="391.96" cy="1294.34" r="6.1" fill="#ff8e00"/>
<circle cx="403.45" cy="1294.34" r="6.1" fill="#ff7b00"/>
<circle cx="414.94" cy="1294.34" r="6.1" fill="#ff9700"/>
<circle cx="426.43" cy="1294.34" r="6.1" fill="#ff6800"/>
<circle cx="437.92" cy="1294.34" r="6.1" fill="#ff7100"/>
<circle cx="449.41" cy="1294.34" r="6.1" fill="#ff7b00"/>
<circle cx="460.90" cy="1294.34" r="6.1" fill="#ff5e00"/>
<circle cx="472.39" cy="1294.34" r="6.1" fill="#ff6800"/>
<circle cx="518.35" cy="1294.34" r="6.1" fill="#ff4c00"/>
<circle cx="208.12" cy="1282.45" r="6.1" fill="#00008c"/>
<circle cx="219.61" cy="1282.45" r="6.1" fill="#0000ad"/>
<circle cx="231.10" cy="1282.45" r="6.1" fill="#001aff"/>
<circle cx="242.59" cy="1282.45" r="6.1" fill="#007cff"/>
<circle cx="254.08" cy="1282.45" r="6.1" fill="#00aeff"/>
<circle cx="265.57" cy="1282.45" r="6.1" fill="#11fae6"/>
<circle cx="277.06" cy="1282.45" r="6.1" fill="#4affad"/>
<circle cx="288.55" cy="1282.45" r="6.1" fill="#65ff92"/>
<circle cx="300.04" cy="1282.45" r="6.1" fill="#95ff61"/>
<circle cx="311.53" cy="1282.45" r="6.1" fill="#adff4a"/>
<circle cx="323.02" cy="1282.45" r="6.1" fill="#c2ff35"/>
<circle cx="334.51" cy="1282.45" r="6.1" fill="#dbff1c"/>
<circle cx="346.00" cy="1282.45" r="6.1" fill="#ffd900"/>
<circle cx="357.49" cy="1282.45" r="6.1" fill="#ffaa00"/>
<circle cx="368.98" cy="1282.45" r="6.1" fill="#ffa100"/>
<circle cx="380.47" cy="1282.45" r="6.1" fill="#ffaa00"/>
<circle cx="391.96" cy="1282.45" r="6.1" fill="#ff8400"/>
<circle cx="403.45" cy="1282.45" r="6.1" fill="#ff7100"/>
<circle cx="414.94" cy="1282.45" r="6.1" fill="#ff7100"/>
<circle cx="426.43" cy="1282.45" r="6.1" fill="#ff5e00"/>
<circle cx="437.92" cy="1282.45" r="6.1" fill="#ffa100"/>
<circle cx="208.12" cy="1270.55" r="6.1" fill="#000086"/>
<circle cx="219.61" cy="1270.55" r="6.1" fill="#0000b8"/>
<circle cx="231.10" cy="1270.55" r="6.1" fill="#0015ff"/>
<circle cx="242.59" cy="1270.55" r="6.1" fill="#006aff"/>
<circle cx="254.08" cy="1270.55" r="6.1" fill="#00b1ff"/>
<circle cx="265.57" cy="1270.55" r="6.1" fill="#16ffe0"/>
<circle cx="277.06" cy="1270.55" r="6.1" fill="#46ffb1"/>
<circle cx="288.55" cy="1270.55" r="6.1" fill="#70ff86"/>
<circle cx="300.04" cy="1270.55" r="6.1" fill="#8cff6b"/>
<circle cx="311.53" cy="1270.55" r="6.1" fill="#b4ff43"/>
<circle cx="323.02" cy="1270.55" r="6.1" fill="#c8ff2e"/>
<circle cx="334.51" cy="1270.55" r="6.1" fill="#eeff09"/>
<circle cx="346.00" cy="1270.55" r="6.1" fill="#ffc600"/>
<circle cx="357.49" cy="1270.55" r="6.1" fill="#ffd900"/>
<circle cx="368.98" cy="1270.55" r="6.1" fill="#ffb300"/>
<circle cx="380.47" cy="1270.55" r="6.1" fill="#ff7b00"/>
<circle cx="391.96" cy="1270.55" r="6.1" fill="#ff7b00"/>
<circle cx="403.45" cy="1270.55" r="6.1" fill="#ff7100"/>
<circle cx="437.92" cy="1270.55" r="6.1" fill="#ff7b00"/>
<circle cx="449.41" cy="1270.55" r="6.1" fill="#ff7b00"/>
<circle cx="460.90" cy="1270.55" r="6.1" fill="#ff8e00"/>
<circle cx="208.12" cy="1258.66" r="6.1" fill="#000081"/>
<circle cx="219.61" cy="1258.66" r="6.1" fill="#0000a8"/>
<circle cx="231.10" cy="1258.66" r="6.1" fill="#0002ff"/>
<circle cx="242.59" cy="1258.66" r="6.1" fill="#007fff"/>
<circle cx="254.08" cy="1258.66" r="6.1" fill="#00c5ff"/>
<circle cx="265.57" cy="1258.66" r="6.1" fill="#23ffd4"/>
<circle cx="277.06" cy="1258.66" r="6.1" fill="#48ffae"/>
<circle cx="288.55" cy="1258.66" r="6.1" fill="#66ff91"/>
<circle cx="300.04" cy="1258.66" r="6.1" fill="#83ff73"/>
<circle cx="311.53" cy="1258.66" r="6.1" fill="#aaff4d"/>
<circle cx="323.02" cy="1258.66" r="6.1" fill="#d0ff27"/>
<circle cx="334.51" cy="1258.66" r="6.1" fill="#ddff1a"/>
<circle cx="346.00" cy="1258.66" r="6.1" fill="#ffe500"/>
<circle cx="357.49" cy="1258.66" r="6.1" fill="#ffcb00"/>
<circle cx="368.98" cy="1258.66" r="6.1" fill="#ffad00"/>
<circle cx="380.47" cy="1258.66" r="6.1" fill="#ffa200"/>
<circle cx="449.41" cy="1258.66" r="6.1" fill="#ff6800"/>
<circle cx="460.90" cy="1258.66" r="6.1" fill="#ff5e00"/>
<circle cx="208.12" cy="1246.77" r="6.1" fill="#000080"/>
<circle cx="219.61" cy="1246.77" r="6.1" fill="#0000b5"/>
<circle cx="231.10" cy="1246.77" r="6.1" fill="#0006ff"/>
<circle cx="242.59" cy="1246.77" r="6.1" fill="#006eff"/>
<circle cx="254.08" cy="1246.77" r="6.1" fill="#00b2ff"/>
<circle cx="265.57" cy="1246.77" r="6.1" fill="#13fde4"/>
<circle cx="277.06" cy="1246.77" r="6.1" fill="#51ffa6"/>
<circle cx="288.55" cy="1246.77" r="6.1" fill="#65ff92"/>
<circle cx="300.04" cy="1246.77" r="6.1" fill="#90ff67"/>
<circle cx="311.53" cy="1246.77" r="6.1" fill="#a8ff4f"/>
<circle cx="323.02" cy="1246.77" r="6.1" fill="#d2ff24"/>
<circle cx="334.51" cy="1246.77" r="6.1" fill="#e2ff15"/>
<circle cx="346.00" cy="1246.77" r="6.1" fill="#ffeb00"/>
<circle cx="357.49" cy="1246.77" r="6.1" fill="#ffd000"/>
<circle cx="380.47" cy="1246.77" r="6.1" fill="#ff9100"/>
<circle cx="403.45" cy="1246.77" r="6.1" fill="#ff8e00"/>
<circle cx="437.92" cy="1246.77" r="6.1" fill="#ff7100"/>
<circle cx="449.41" cy="1246.77" r="6.1" fill="#ff1c00"/>
<circle cx="208.12" cy="1234.88" r="6.1" fill="#000088"/>
<circle cx="219.61" cy="1234.88" r="6.1" fill="#0000bb"/>
<circle cx="231.10" cy="1234.88" r="6.1" fill="#0004ff"/>
<circle cx="242.59" cy="1234.88" r="6.1" fill="#007dff"/>
<circle cx="254.08" cy="1234.88" r="6.1" fill="#00c2ff"/>
<circle cx="265.57" cy="1234.88" r="6.1" fill="#11fbe6"/>
<circle cx="277.06" cy="1234.88" r="6.1" fill="#49ffae"/>
<circle cx="288.55" cy="1234.88" r="6.1" fill="#6eff89"/>
<circle cx="300.04" cy="1234.88" r="6.1" fill="#85ff71"/>
<circle cx="311.53" cy="1234.88" r="6.1" fill="#a4ff53"/>
<circle cx="323.02" cy="1234.88" r="6.1" fill="#c9ff2e"/>
<circle cx="334.51" cy="1234.88" r="6.1" fill="#ebff0c"/>
<circle cx="346.00" cy="1234.88" r="6.1" fill="#ffe100"/>
<circle cx="368.98" cy="1234.88" r="6.1" fill="#ffae00"/>
<circle cx="380.47" cy="1234.88" r="6.1" fill="#ff8c00"/>
<circle cx="414.94" cy="1234.88" r="6.1" fill="#ff4200"/>
<circle cx="437.92" cy="1234.88" r="6.1" fill="#ff3d00"/>
<circle cx="196.63" cy="1222.99" r="6.1" fill="#00008a"/>
<circle cx="208.12" cy="1222.99" r="6.1" fill="#000080"/>
<circle cx="219.61" cy="1222.99" r="6.1" fill="#0000bf"/>
<circle cx="231.10" cy="1222.99" r="6.1" fill="#000dff"/>
<circle cx="242.59" cy="1222.99" r="6.1" fill="#0069ff"/>
<circle cx="254.08" cy="1222.99" r="6.1" fill="#00beff"/>
<circle cx="265.57" cy="1222.99" r="6.1" fill="#23ffd4"/>
<circle cx="277.06" cy="1222.99" r="6.1" fill="#48ffaf"/>
<circle cx="288.55" cy="1222.99" r="6.1" fill="#6fff88"/>
<circle cx="300.04" cy="1222.99" r="6.1" fill="#97ff60"/>
<circle cx="311.53" cy="1222.99" r="6.1" fill="#afff48"/>
<circle cx="323.02" cy="1222.99" r="6.1" fill="#c6ff30"/>
<circle cx="334.51" cy="1222.99" r="6.1" fill="#e2ff15"/>
<circle cx="346.00" cy="1222.99" r="6.1" fill="#f8f400"/>
<circle cx="357.49" cy="1222.99" r="6.1" fill="#ffd100"/>
<circle cx="426.43" cy="1222.99" r="6.1" fill="#ff2f00"/>
<circle cx="449.41" cy="1222.99" r="6.1" fill="#ff2600"/>
<circle cx="208.12" cy="1211.09" r="6.1" fill="#000088"/>
<circle cx="219.61" cy="1211.09" r="6.1" fill="#0000b9"/>
<circle cx="231.10" cy="1211.09" r="6.1" fill="#000fff"/>
<circle cx="242.59" cy="1211.09" r="6.1" fill="#0079ff"/>
<circle cx="254.08" cy="1211.09" r="6.1" fill="#00c7ff"/>
<circle cx="265.57" cy="1211.09" r="6.1" fill="#1dffda"/>
<circle cx="277.06" cy="1211.09" r="6.1" fill="#51ffa6"/>
<circle cx="288.55" cy="1211.09" r="6.1" fill="#71ff86"/>
<circle cx="300.04" cy="1211.09" r="6.1" fill="#86ff70"/>
<circle cx="311.53" cy="1211.09" r="6.1" fill="#afff48"/>
<circle cx="334.51" cy="1211.09" r="6.1" fill="#daff1c"/>
<circle cx="346.00" cy="1211.09" r="6.1" fill="#faf200"/>
<circle cx="357.49" cy="1211.09" r="6.1" fill="#ffc300"/>
<circle cx="368.98" cy="1211.09" r="6.1" fill="#ffac00"/>
<circle cx="380.47" cy="1211.09" r="6.1" fill="#ff9500"/>
<circle cx="403.45" cy="1211.09" r="6.1" fill="#ff5e00"/>
<circle cx="426.43" cy="1211.09" r="6.1" fill="#ff4c00"/>
<circle cx="449.41" cy="1211.09" r="6.1" fill="#f30900"/>
<circle cx="208.12" cy="1199.20" r="6.1" fill="#000080"/>
<circle cx="219.61" cy="1199.20" r="6.1" fill="#0000b4"/>
<circle cx="231.10" cy="1199.20" r="6.1" fill="#0007ff"/>
<circle cx="242.59" cy="1199.20" r="6.1" fill="#006cff"/>
<circle cx="254.08" cy="1199.20" r="6.1" fill="#00c7ff"/>
<circle cx="265.57" cy="1199.20" r="6.1" fill="#11fbe5"/>
<circle cx="277.06" cy="1199.20" r="6.1" fill="#40ffb7"/>
<circle cx="288.55" cy="1199.20" r="6.1" fill="#6bff8c"/>
<circle cx="300.04" cy="1199.20" r="6.1" fill="#95ff62"/>
<circle cx="334.51" cy="1199.20" r="6.1" fill="#e2ff15"/>
<circle cx="346.00" cy="1199.20" r="6.1" fill="#ffe700"/>
<circle cx="357.49" cy="1199.20" r="6.1" fill="#ffcd00"/>
<circle cx="426.43" cy="1199.20" r="6.1" fill="#ff3400"/>
<circle cx="208.12" cy="1187.31" r="6.1" fill="#000096"/>
<circle cx="219.61" cy="1187.31" r="6.1" fill="#0000bc"/>
<circle cx="231.10" cy="1187.31" r="6.1" fill="#000bff"/>
<circle cx="242.59" cy="1187.31" r="6.1" fill="#0070ff"/>
<circle cx="254.08" cy="1187.31" r="6.1" fill="#00bbff"/>
<circle cx="265.57" cy="1187.31" r="6.1" fill="#16ffe1"/>
<circle cx="277.06" cy="1187.31" r="6.1" fill="#42ffb4"/>
<circle cx="288.55" cy="1187.31" r="6.1" fill="#6dff8a"/>
<circle cx="311.53" cy="1187.31" r="6.1" fill="#aaff4d"/>
<circle cx="323.02" cy="1187.31" r="6.1" fill="#c6ff31"/>
<circle cx="334.51" cy="1187.31" r="6.1" fill="#dbff1c"/>
<circle cx="346.00" cy="1187.31" r="6.1" fill="#ffeb00"/>
<circle cx="368.98" cy="1187.31" r="6.1" fill="#ffb400"/>
<circle cx="380.47" cy="1187.31" r="6.1" fill="#ff9100"/>
<circle cx="208.12" cy="1175.42" r="6.1" fill="#00008a"/>
<circle cx="219.61" cy="1175.42" r="6.1" fill="#0000a9"/>
<circle cx="231.10" cy="1175.42" r="6.1" fill="#0010ff"/>
<circle cx="242.59" cy="1175.42" r="6.1" fill="#006cff"/>
<circle cx="254.08" cy="1175.42" r="6.1" fill="#00c1ff"/>
<circle cx="265.57" cy="1175.42" r="6.1" fill="#10f9e7"/>
<circle cx="277.06" cy="1175.42" r="6.1" fill="#43ffb4"/>
<circle cx="288.55" cy="1175.42" r="6.1" fill="#70ff87"/>
<circle cx="300.04" cy="1175.42" r="6.1" fill="#8fff68"/>
<circle cx="311.53" cy="1175.42" r="6.1" fill="#a3ff54"/>
<circle cx="323.02" cy="1175.42" r="6.1" fill="#ceff29"/>
<circle cx="334.51" cy="1175.42" r="6.1" fill="#e4ff12"/>
<circle cx="357.49" cy="1175.42" r="6.1" fill="#ffbd00"/>
<circle cx="208.12" cy="1163.53" r="6.1" fill="#000093"/>
<circle cx="219.61" cy="1163.53" r="6.1" fill="#0000c4"/>
<circle cx="231.10" cy="1163.53" r="6.1" fill="#001bff"/>
<circle cx="242.59" cy="1163.53" r="6.1" fill="#006eff"/>
<circle cx="254.08" cy="1163.53" r="6.1" fill="#00b2ff"/>
<circle cx="265.57" cy="1163.53" r="6.1" fill="#11fbe6"/>
<circle cx="277.06" cy="1163.53" r="6.1" fill="#53ffa3"/>
<circle cx="288.55" cy="1163.53" r="6.1" fill="#67ff90"/>
<circle cx="300.04" cy="1163.53" r="6.1" fill="#83ff73"/>
<circle cx="311.53" cy="1163.53" r="6.1" fill="#b5ff42"/>
<circle cx="323.02" cy="1163.53" r="6.1" fill="#c3ff34"/>
<circle cx="334.51" cy="1163.53" r="6.1" fill="#deff19"/>
<circle cx="208.12" cy="1151.63" r="6.1" fill="#00009a"/>
<circle cx="219.61" cy="1151.63" r="6.1" fill="#0000c5"/>
<circle cx="231.10" cy="1151.63" r="6.1" fill="#0018ff"/>
<circle cx="242.59" cy="1151.63" r="6.1" fill="#0081ff"/>
<circle cx="254.08" cy="1151.63" r="6.1" fill="#00b3ff"/>
<circle cx="265.57" cy="1151.63" r="6.1" fill="#18ffde"/>
<circle cx="277.06" cy="1151.63" r="6.1" fill="#42ffb5"/>
<circle cx="288.55" cy="1151.63" r="6.1" fill="#6eff89"/>
<circle cx="300.04" cy="1151.63" r="6.1" fill="#92ff65"/>
<circle cx="311.53" cy="1151.63" r="6.1" fill="#acff4b"/>
<circle cx="334.51" cy="1151.63" r="6.1" fill="#ffe300"/>
<circle cx="346.00" cy="1151.63" r="6.1" fill="#f3fa04"/>
<circle cx="357.49" cy="1151.63" r="6.1" fill="#ff9700"/>
<circle cx="208.12" cy="1139.74" r="6.1" fill="#000088"/>
<circle cx="219.61" cy="1139.74" r="6.1" fill="#0000bb"/>
<circle cx="231.10" cy="1139.74" r="6.1" fill="#0006ff"/>
<circle cx="242.59" cy="1139.74" r="6.1" fill="#0075ff"/>
<circle cx="254.08" cy="1139.74" r="6.1" fill="#00b3ff"/>
<circle cx="265.57" cy="1139.74" r="6.1" fill="#1bffdc"/>
<circle cx="277.06" cy="1139.74" r="6.1" fill="#40ffb7"/>
<circle cx="288.55" cy="1139.74" r="6.1" fill="#69ff8e"/>
<circle cx="300.04" cy="1139.74" r="6.1" fill="#82ff75"/>
<circle cx="311.53" cy="1139.74" r="6.1" fill="#abff4c"/>
<circle cx="334.51" cy="1139.74" r="6.1" fill="#ffe300"/>
<circle cx="219.61" cy="1127.85" r="6.1" fill="#0000b2"/>
<circle cx="231.10" cy="1127.85" r="6.1" fill="#001aff"/>
<circle cx="242.59" cy="1127.85" r="6.1" fill="#0076ff"/>
<circle cx="254.08" cy="1127.85" r="6.1" fill="#00bbff"/>
<circle cx="265.57" cy="1127.85" r="6.1" fill="#20ffd7"/>
<circle cx="277.06" cy="1127.85" r="6.1" fill="#4dffaa"/>
<circle cx="300.04" cy="1127.85" r="6.1" fill="#92ff65"/>
<circle cx="323.02" cy="1127.85" r="6.1" fill="#b5ff42"/>
<circle cx="208.12" cy="1115.96" r="6.1" fill="#000099"/>
<circle cx="219.61" cy="1115.96" r="6.1" fill="#0000b0"/>
<circle cx="231.10" cy="1115.96" r="6.1" fill="#0014ff"/>
<circle cx="242.59" cy="1115.96" r="6.1" fill="#007eff"/>
<circle cx="254.08" cy="1115.96" r="6.1" fill="#00bcff"/>
<circle cx="265.57" cy="1115.96" r="6.1" fill="#0ef7e9"/>
<circle cx="277.06" cy="1115.96" r="6.1" fill="#42ffb5"/>
<circle cx="288.55" cy="1115.96" r="6.1" fill="#65ff92"/>
<circle cx="300.04" cy="1115.96" r="6.1" fill="#90ff67"/>
<circle cx="323.02" cy="1115.96" r="6.1" fill="#a5ff52"/>
<circle cx="346.00" cy="1115.96" r="6.1" fill="#e6ff10"/>
<circle cx="208.12" cy="1104.07" r="6.1" fill="#00008b"/>
<circle cx="219.61" cy="1104.07" r="6.1" fill="#0000ae"/>
<circle cx="231.10" cy="1104.07" r="6.1" fill="#0013ff"/>
<circle cx="242.59" cy="1104.07" r="6.1" fill="#006eff"/>
<circle cx="254.08" cy="1104.07" r="6.1" fill="#00b0ff"/>
<circle cx="265.57" cy="1104.07" r="6.1" fill="#1effd9"/>
<circle cx="277.06" cy="1104.07" r="6.1" fill="#54ffa2"/>
<circle cx="300.04" cy="1104.07" r="6.1" fill="#a5ff52"/>
<circle cx="219.61" cy="1092.17" r="6.1" fill="#000097"/>
<circle cx="231.10" cy="1092.17" r="6.1" fill="#0000f3"/>
<circle cx="242.59" cy="1092.17" r="6.1" fill="#0061ff"/>
<circle cx="254.08" cy="1092.17" r="6.1" fill="#00dbff"/>
<circle cx="265.57" cy="1092.17" r="6.1" fill="#21ffd6"/>
<circle cx="277.06" cy="1092.17" r="6.1" fill="#52ffa5"/>
<circle cx="288.55" cy="1092.17" r="6.1" fill="#73ff84"/>
<circle cx="311.53" cy="1092.17" r="6.1" fill="#94ff63"/>
<circle cx="323.02" cy="1092.17" r="6.1" fill="#deff19"/>
<circle cx="334.51" cy="1092.17" r="6.1" fill="#ffd900"/>
<circle cx="208.12" cy="1080.28" r="6.1" fill="#000080"/>
<circle cx="219.61" cy="1080.28" r="6.1" fill="#000097"/>
<circle cx="231.10" cy="1080.28" r="6.1" fill="#0000f9"/>
<circle cx="242.59" cy="1080.28" r="6.1" fill="#0070ff"/>
<circle cx="265.57" cy="1080.28" r="6.1" fill="#52ffa5"/>
<circle cx="277.06" cy="1080.28" r="6.1" fill="#52ffa5"/>
<circle cx="219.61" cy="1068.39" r="6.1" fill="#0000b9"/>
<circle cx="231.10" cy="1068.39" r="6.1" fill="#0000f3"/>
<circle cx="242.59" cy="1068.39" r="6.1" fill="#002eff"/>
<circle cx="254.08" cy="1068.39" r="6.1" fill="#00d6ff"/>
<circle cx="265.57" cy="1068.39" r="6.1" fill="#42ffb5"/>
<circle cx="277.06" cy="1068.39" r="6.1" fill="#63ff94"/>
<circle cx="288.55" cy="1068.39" r="6.1" fill="#94ff63"/>
<circle cx="300.04" cy="1068.39" r="6.1" fill="#adff4a"/>
<circle cx="242.59" cy="1056.50" r="6.1" fill="#006bff"/>
<circle cx="254.08" cy="1056.50" r="6.1" fill="#00d1ff"/>
<circle cx="265.57" cy="1056.50" r="6.1" fill="#6bff8c"/>
<circle cx="219.61" cy="1044.61" r="6.1" fill="#000097"/>
<circle cx="231.10" cy="1044.61" r="6.1" fill="#0000d1"/>
<circle cx="242.59" cy="1044.61" r="6.1" fill="#0094ff"/>
<circle cx="208.12" cy="1032.71" r="6.1" fill="#000080"/>
<circle cx="219.61" cy="1032.71" r="6.1" fill="#000080"/>
<circle cx="231.10" cy="1032.71" r="6.1" fill="#0000f3"/>
<circle cx="242.59" cy="1032.71" r="6.1" fill="#0094ff"/>
<circle cx="254.08" cy="1032.71" r="6.1" fill="#00dbff"/>
<circle cx="288.55" cy="1032.71" r="6.1" fill="#73ff84"/>
<circle cx="219.61" cy="1020.82" r="6.1" fill="#0000c5"/>
<circle cx="242.59" cy="1020.82" r="6.1" fill="#0094ff"/>
<circle cx="254.08" cy="1020.82" r="6.1" fill="#08f0ef"/>
<circle cx="265.57" cy="1020.82" r="6.1" fill="#4affad"/>
<circle cx="208.12" cy="1008.93" r="6.1" fill="#000080"/>
<circle cx="231.10" cy="1008.93" r="6.1" fill="#0000f3"/>
<circle cx="254.08" cy="1008.93" r="6.1" fill="#08f0ef"/>
<circle cx="265.57" cy="1008.93" r="6.1" fill="#4affad"/>
<circle cx="242.59" cy="997.04" r="6.1" fill="#0057ff"/>
<circle cx="254.08" cy="997.04" r="6.1" fill="#21ffd6"/>
<circle cx="300.04" cy="997.04" r="6.1" fill="#a5ff52"/>
<circle cx="219.61" cy="985.15" r="6.1" fill="#0000a2"/>
<circle cx="231.10" cy="985.15" r="6.1" fill="#0019ff"/>
<circle cx="254.08" cy="985.15" r="6.1" fill="#00d1ff"/>
<circle cx="219.61" cy="973.25" r="6.1" fill="#0000a2"/>
<circle cx="231.10" cy="961.36" r="6.1" fill="#0000ff"/>
<circle cx="242.59" cy="961.36" r="6.1" fill="#009eff"/>
<circle cx="242.59" cy="949.47" r="6.1" fill="#008aff"/>
<circle cx="254.08" cy="949.47" r="6.1" fill="#00bdff"/>
<circle cx="265.57" cy="949.47" r="6.1" fill="#52ffa5"/>
<circle cx="254.08" cy="937.58" r="6.1" fill="#08f0ef"/>
<circle cx="242.59" cy="925.69" r="6.1" fill="#006bff"/>
<circle cx="254.08" cy="925.69" r="6.1" fill="#21ffd6"/>
<circle cx="254.08" cy="913.79" r="6.1" fill="#08f0ef"/>
<circle cx="219.61" cy="901.90" r="6.1" fill="#0000ae"/>
<circle cx="231.10" cy="901.90" r="6.1" fill="#0000f3"/>
<circle cx="231.10" cy="878.12" r="6.1" fill="#0000f3"/>
<circle cx="277.06" cy="866.23" r="6.1" fill="#4affad"/>
<circle cx="254.08" cy="830.55" r="6.1" fill="#10fae6"/>
</g>
<rect x="173.53" y="758.83" width="597.70" height="618.60" fill="none" stroke="#000" stroke-width="2.67"/>
<text x="185.14" y="1426.43" text-anchor="middle">0.0</text>
<text x="328.76" y="1426.43" text-anchor="middle">2.5</text>
<text x="472.39" y="1426.43" text-anchor="middle">5.0</text>
<text x="616.01" y="1426.43" text-anchor="middle">7.5</text>
<text x="759.64" y="1426.43" text-anchor="middle">10.0</text>
<text x="150.23" y="1378.19" text-anchor="end">0.0</text>
<text x="150.23" y="1259.27" text-anchor="end">0.2</text>
<text x="150.23" y="1140.35" text-anchor="end">0.4</text>
<text x="150.23" y="1021.43" text-anchor="end">0.6</text>
<text x="150.23" y="902.51" text-anchor="end">0.8</text>
<text x="150.23" y="783.59" text-anchor="end">1.0</text>
<rect x="808.58" y="758.83" width="30.79" height="618.60" fill="url(#jet)" stroke="#000" stroke-width="2.67"/>
<text x="862.77" y="1390.53">0</text>
<text x="862.77" y="1305.35">1000</text>
<text x="862.77" y="1220.16">2000</text>
<text x="862.77" y="1134.98">3000</text>
<text x="862.77" y="1049.80">4000</text>
<text x="862.77" y="964.61">5000</text>
<text x="862.77" y="879.43">6000</text>
<text x="862.77" y="794.25">7000</text>
<path d="M185.14 1377.43v11.67M328.76 1377.43v11.67M472.39 1377.43v11.67M616.01 1377.43v11.67M759.64 1377.43v11.67M173.53 1365.69h-11.67M173.53 1246.77h-11.67M173.53 1127.85h-11.67M173.53 1008.93h-11.67M173.53 890.01h-11.67M173.53 771.09h-11.67M839.37 1377.43h11.67M839.37 1292.25h11.67M839.37 1207.06h11.67M839.37 1121.88h11.67M839.37 1036.70h11.67M839.37 951.51h11.67M839.37 866.33h11.67M839.37 781.15h11.67" stroke="#000" stroke-width="2.67" fill="none"/>
<text x="470.88" y="1476.83" text-anchor="middle" letter-spacing="0.180">1/Density, cm<tspan font-size="23.33" dy="-13.80">3</tspan><tspan dy="13.80" dx="1.60">g</tspan><tspan font-size="23.33" dy="-13.80">−1</tspan></text>
<text transform="translate(73.53 1071.13) rotate(-90)" text-anchor="middle" letter-spacing="0.000">Thermal Conductivity, Wm<tspan font-size="23.33" dy="-13.80">−1</tspan><tspan dy="13.80" dx="3.20">K</tspan><tspan font-size="23.33" dy="-13.80">−1</tspan></text>
<text transform="translate(991.90 1068.98) rotate(-90)" text-anchor="middle" letter-spacing="0.125">Gravimetric Surface Area, m<tspan font-size="23.33" dy="-13.80">2</tspan><tspan dy="13.80" dx="2.00">g</tspan><tspan font-size="23.33" dy="-13.80">−1</tspan></text>
<text x="0.90" y="785.00" font-family="'Liberation Sans', Arial, Helvetica, sans-serif" font-weight="bold" font-size="52">c</text>
</g>
<g id="panel-d">
<g stroke="none">
<circle cx="1315.39" cy="1353.80" r="6.1" fill="#ffc600"/>
<circle cx="1326.88" cy="1353.80" r="6.1" fill="#e6ff10"/>
<circle cx="1338.37" cy="1353.80" r="6.1" fill="#94ff63"/>
<circle cx="1349.86" cy="1353.80" r="6.1" fill="#deff19"/>
<circle cx="1361.35" cy="1353.80" r="6.1" fill="#a5ff52"/>
<circle cx="1372.84" cy="1353.80" r="6.1" fill="#94ff63"/>
<circle cx="1384.33" cy="1353.80" r="6.1" fill="#deff19"/>
<circle cx="1395.82" cy="1353.80" r="6.1" fill="#7bff7b"/>
<circle cx="1407.31" cy="1353.80" r="6.1" fill="#9cff5a"/>
<circle cx="1418.80" cy="1353.80" r="6.1" fill="#5aff9c"/>
<circle cx="1430.29" cy="1353.80" r="6.1" fill="#8cff6b"/>
<circle cx="1441.78" cy="1353.80" r="6.1" fill="#8cff6b"/>
<circle cx="1453.27" cy="1353.80" r="6.1" fill="#7bff7b"/>
<circle cx="1464.76" cy="1353.80" r="6.1" fill="#7bff7b"/>
<circle cx="1476.25" cy="1353.80" r="6.1" fill="#7bff7b"/>
<circle cx="1487.74" cy="1353.80" r="6.1" fill="#4affad"/>
<circle cx="1499.23" cy="1353.80" r="6.1" fill="#4affad"/>
<circle cx="1510.72" cy="1353.80" r="6.1" fill="#6bff8c"/>
<circle cx="1522.21" cy="1353.80" r="6.1" fill="#52ffa5"/>
<circle cx="1533.70" cy="1353.80" r="6.1" fill="#7bff7b"/>
<circle cx="1556.68" cy="1353.80" r="6.1" fill="#29ffce"/>
<circle cx="1568.17" cy="1353.80" r="6.1" fill="#29ffce"/>
<circle cx="1579.66" cy="1353.80" r="6.1" fill="#08f0ef"/>
<circle cx="1591.15" cy="1353.80" r="6.1" fill="#08f0ef"/>
<circle cx="1602.64" cy="1353.80" r="6.1" fill="#08f0ef"/>
<circle cx="1614.13" cy="1353.80" r="6.1" fill="#00e5f7"/>
<circle cx="1625.62" cy="1353.80" r="6.1" fill="#00bdff"/>
<circle cx="1694.56" cy="1353.80" r="6.1" fill="#00c7ff"/>
<circle cx="1729.03" cy="1353.80" r="6.1" fill="#009eff"/>
<circle cx="1763.50" cy="1353.80" r="6.1" fill="#00a8ff"/>
<circle cx="1280.92" cy="1341.91" r="6.1" fill="#ff5e00"/>
<circle cx="1292.41" cy="1341.91" r="6.1" fill="#8cff6b"/>
<circle cx="1303.90" cy="1341.91" r="6.1" fill="#ffd900"/>
<circle cx="1315.39" cy="1341.91" r="6.1" fill="#ffc600"/>
<circle cx="1326.88" cy="1341.91" r="6.1" fill="#ffa100"/>
<circle cx="1338.37" cy="1341.91" r="6.1" fill="#ffb300"/>
<circle cx="1349.86" cy="1341.91" r="6.1" fill="#ffc600"/>
<circle cx="1361.35" cy="1341.91" r="6.1" fill="#ffbd00"/>
<circle cx="1372.84" cy="1341.91" r="6.1" fill="#ffd000"/>
<circle cx="1384.33" cy="1341.91" r="6.1" fill="#e6ff10"/>
<circle cx="1395.82" cy="1341.91" r="6.1" fill="#ffe300"/>
<circle cx="1407.31" cy="1341.91" r="6.1" fill="#ceff29"/>
<circle cx="1418.80" cy="1341.91" r="6.1" fill="#c5ff31"/>
<circle cx="1430.29" cy="1341.91" r="6.1" fill="#bdff3a"/>
<circle cx="1441.78" cy="1341.91" r="6.1" fill="#b5ff42"/>
<circle cx="1453.27" cy="1341.91" r="6.1" fill="#7bff7b"/>
<circle cx="1464.76" cy="1341.91" r="6.1" fill="#84ff73"/>
<circle cx="1476.25" cy="1341.91" r="6.1" fill="#8cff6b"/>
<circle cx="1487.74" cy="1341.91" r="6.1" fill="#7bff7b"/>
<circle cx="1499.23" cy="1341.91" r="6.1" fill="#7bff7b"/>
<circle cx="1510.72" cy="1341.91" r="6.1" fill="#7bff7b"/>
<circle cx="1522.21" cy="1341.91" r="6.1" fill="#7bff7b"/>
<circle cx="1533.70" cy="1341.91" r="6.1" fill="#52ffa5"/>
<circle cx="1545.19" cy="1341.91" r="6.1" fill="#63ff94"/>
<circle cx="1556.68" cy="1341.91" r="6.1" fill="#52ffa5"/>
<circle cx="1568.17" cy="1341.91" r="6.1" fill="#52ffa5"/>
<circle cx="1579.66" cy="1341.91" r="6.1" fill="#42ffb5"/>
<circle cx="1591.15" cy="1341.91" r="6.1" fill="#29ffce"/>
<circle cx="1602.64" cy="1341.91" r="6.1" fill="#31ffc5"/>
<circle cx="1614.13" cy="1341.91" r="6.1" fill="#31ffc5"/>
<circle cx="1625.62" cy="1341.91" r="6.1" fill="#31ffc5"/>
<circle cx="1637.11" cy="1341.91" r="6.1" fill="#31ffc5"/>
<circle cx="1648.60" cy="1341.91" r="6.1" fill="#21ffd6"/>
<circle cx="1660.09" cy="1341.91" r="6.1" fill="#21ffd6"/>
<circle cx="1683.07" cy="1341.91" r="6.1" fill="#00d1ff"/>
<circle cx="1694.56" cy="1341.91" r="6.1" fill="#08f0ef"/>
<circle cx="1706.05" cy="1341.91" r="6.1" fill="#08f0ef"/>
<circle cx="1786.48" cy="1341.91" r="6.1" fill="#0094ff"/>
<circle cx="1269.43" cy="1330.01" r="6.1" fill="#ff8400"/>
<circle cx="1280.92" cy="1330.01" r="6.1" fill="#ff7b00"/>
<circle cx="1292.41" cy="1330.01" r="6.1" fill="#ff5e00"/>
<circle cx="1303.90" cy="1330.01" r="6.1" fill="#ff5e00"/>
<circle cx="1315.39" cy="1330.01" r="6.1" fill="#ff7b00"/>
<circle cx="1326.88" cy="1330.01" r="6.1" fill="#ff8400"/>
<circle cx="1338.37" cy="1330.01" r="6.1" fill="#ff8400"/>
<circle cx="1349.86" cy="1330.01" r="6.1" fill="#ff8e00"/>
<circle cx="1361.35" cy="1330.01" r="6.1" fill="#ff8400"/>
<circle cx="1372.84" cy="1330.01" r="6.1" fill="#ff8e00"/>
<circle cx="1384.33" cy="1330.01" r="6.1" fill="#ff9700"/>
<circle cx="1395.82" cy="1330.01" r="6.1" fill="#ffa100"/>
<circle cx="1407.31" cy="1330.01" r="6.1" fill="#ffec00"/>
<circle cx="1418.80" cy="1330.01" r="6.1" fill="#f7f600"/>
<circle cx="1430.29" cy="1330.01" r="6.1" fill="#ceff29"/>
<circle cx="1441.78" cy="1330.01" r="6.1" fill="#bdff3a"/>
<circle cx="1453.27" cy="1330.01" r="6.1" fill="#b5ff42"/>
<circle cx="1464.76" cy="1330.01" r="6.1" fill="#adff4a"/>
<circle cx="1476.25" cy="1330.01" r="6.1" fill="#a5ff52"/>
<circle cx="1487.74" cy="1330.01" r="6.1" fill="#a5ff52"/>
<circle cx="1499.23" cy="1330.01" r="6.1" fill="#9cff5a"/>
<circle cx="1510.72" cy="1330.01" r="6.1" fill="#94ff63"/>
<circle cx="1522.21" cy="1330.01" r="6.1" fill="#7bff7b"/>
<circle cx="1533.70" cy="1330.01" r="6.1" fill="#8cff6b"/>
<circle cx="1545.19" cy="1330.01" r="6.1" fill="#63ff94"/>
<circle cx="1556.68" cy="1330.01" r="6.1" fill="#63ff94"/>
<circle cx="1568.17" cy="1330.01" r="6.1" fill="#63ff94"/>
<circle cx="1579.66" cy="1330.01" r="6.1" fill="#5aff9c"/>
<circle cx="1591.15" cy="1330.01" r="6.1" fill="#5aff9c"/>
<circle cx="1602.64" cy="1330.01" r="6.1" fill="#42ffb5"/>
<circle cx="1614.13" cy="1330.01" r="6.1" fill="#42ffb5"/>
<circle cx="1625.62" cy="1330.01" r="6.1" fill="#29ffce"/>
<circle cx="1637.11" cy="1330.01" r="6.1" fill="#31ffc5"/>
<circle cx="1648.60" cy="1330.01" r="6.1" fill="#19ffde"/>
<circle cx="1660.09" cy="1330.01" r="6.1" fill="#21ffd6"/>
<circle cx="1694.56" cy="1330.01" r="6.1" fill="#3affbd"/>
<circle cx="1774.99" cy="1330.01" r="6.1" fill="#00b2ff"/>
<circle cx="1797.97" cy="1330.01" r="6.1" fill="#00bdff"/>
<circle cx="1269.43" cy="1318.12" r="6.1" fill="#ff9700"/>
<circle cx="1280.92" cy="1318.12" r="6.1" fill="#ffaa00"/>
<circle cx="1292.41" cy="1318.12" r="6.1" fill="#ff5e00"/>
<circle cx="1303.90" cy="1318.12" r="6.1" fill="#ff5500"/>
<circle cx="1315.39" cy="1318.12" r="6.1" fill="#ff5500"/>
<circle cx="1326.88" cy="1318.12" r="6.1" fill="#ff6800"/>
<circle cx="1338.37" cy="1318.12" r="6.1" fill="#ff6800"/>
<circle cx="1349.86" cy="1318.12" r="6.1" fill="#ff7100"/>
<circle cx="1361.35" cy="1318.12" r="6.1" fill="#ff7b00"/>
<circle cx="1372.84" cy="1318.12" r="6.1" fill="#ff8e00"/>
<circle cx="1384.33" cy="1318.12" r="6.1" fill="#ff9700"/>
<circle cx="1395.82" cy="1318.12" r="6.1" fill="#ffaa00"/>
<circle cx="1407.31" cy="1318.12" r="6.1" fill="#ffc600"/>
<circle cx="1418.80" cy="1318.12" r="6.1" fill="#ffd900"/>
<circle cx="1430.29" cy="1318.12" r="6.1" fill="#efff08"/>
<circle cx="1441.78" cy="1318.12" r="6.1" fill="#deff19"/>
<circle cx="1453.27" cy="1318.12" r="6.1" fill="#ceff29"/>
<circle cx="1464.76" cy="1318.12" r="6.1" fill="#ceff29"/>
<circle cx="1476.25" cy="1318.12" r="6.1" fill="#b5ff42"/>
<circle cx="1487.74" cy="1318.12" r="6.1" fill="#adff4a"/>
<circle cx="1499.23" cy="1318.12" r="6.1" fill="#9cff5a"/>
<circle cx="1510.72" cy="1318.12" r="6.1" fill="#94ff63"/>
<circle cx="1522.21" cy="1318.12" r="6.1" fill="#84ff73"/>
<circle cx="1533.70" cy="1318.12" r="6.1" fill="#7bff7b"/>
<circle cx="1545.19" cy="1318.12" r="6.1" fill="#8cff6b"/>
<circle cx="1556.68" cy="1318.12" r="6.1" fill="#8cff6b"/>
<circle cx="1568.17" cy="1318.12" r="6.1" fill="#6bff8c"/>
<circle cx="1579.66" cy="1318.12" r="6.1" fill="#4affad"/>
<circle cx="1591.15" cy="1318.12" r="6.1" fill="#52ffa5"/>
<circle cx="1625.62" cy="1318.12" r="6.1" fill="#29ffce"/>
<circle cx="1648.60" cy="1318.12" r="6.1" fill="#10fae6"/>
<circle cx="1660.09" cy="1318.12" r="6.1" fill="#10fae6"/>
<circle cx="1257.94" cy="1306.23" r="6.1" fill="#00b2ff"/>
<circle cx="1269.43" cy="1306.23" r="6.1" fill="#ceff29"/>
<circle cx="1280.92" cy="1306.23" r="6.1" fill="#ff8e00"/>
<circle cx="1292.41" cy="1306.23" r="6.1" fill="#ff5e00"/>
<circle cx="1303.90" cy="1306.23" r="6.1" fill="#ff5500"/>
<circle cx="1315.39" cy="1306.23" r="6.1" fill="#ff4200"/>
<circle cx="1326.88" cy="1306.23" r="6.1" fill="#ff3900"/>
<circle cx="1338.37" cy="1306.23" r="6.1" fill="#ff4200"/>
<circle cx="1349.86" cy="1306.23" r="6.1" fill="#ff4c00"/>
<circle cx="1361.35" cy="1306.23" r="6.1" fill="#ff5e00"/>
<circle cx="1372.84" cy="1306.23" r="6.1" fill="#ff6800"/>
<circle cx="1384.33" cy="1306.23" r="6.1" fill="#ff7b00"/>
<circle cx="1395.82" cy="1306.23" r="6.1" fill="#ff8e00"/>
<circle cx="1407.31" cy="1306.23" r="6.1" fill="#ffa100"/>
<circle cx="1418.80" cy="1306.23" r="6.1" fill="#ffbd00"/>
<circle cx="1430.29" cy="1306.23" r="6.1" fill="#ffc600"/>
<circle cx="1441.78" cy="1306.23" r="6.1" fill="#ffd000"/>
<circle cx="1453.27" cy="1306.23" r="6.1" fill="#ffec00"/>
<circle cx="1464.76" cy="1306.23" r="6.1" fill="#e6ff10"/>
<circle cx="1476.25" cy="1306.23" r="6.1" fill="#ceff29"/>
<circle cx="1487.74" cy="1306.23" r="6.1" fill="#bdff3a"/>
<circle cx="1499.23" cy="1306.23" r="6.1" fill="#adff4a"/>
<circle cx="1510.72" cy="1306.23" r="6.1" fill="#94ff63"/>
<circle cx="1522.21" cy="1306.23" r="6.1" fill="#8cff6b"/>
<circle cx="1533.70" cy="1306.23" r="6.1" fill="#8cff6b"/>
<circle cx="1556.68" cy="1306.23" r="6.1" fill="#94ff63"/>
<circle cx="1568.17" cy="1306.23" r="6.1" fill="#6bff8c"/>
<circle cx="1579.66" cy="1306.23" r="6.1" fill="#3affbd"/>
<circle cx="1591.15" cy="1306.23" r="6.1" fill="#42ffb5"/>
<circle cx="1614.13" cy="1306.23" r="6.1" fill="#42ffb5"/>
<circle cx="1625.62" cy="1306.23" r="6.1" fill="#31ffc5"/>
<circle cx="1637.11" cy="1306.23" r="6.1" fill="#29ffce"/>
<circle cx="1257.94" cy="1294.34" r="6.1" fill="#00c7ff"/>
<circle cx="1269.43" cy="1294.34" r="6.1" fill="#94ff63"/>
<circle cx="1280.92" cy="1294.34" r="6.1" fill="#ffd900"/>
<circle cx="1292.41" cy="1294.34" r="6.1" fill="#ff8400"/>
<circle cx="1303.90" cy="1294.34" r="6.1" fill="#ff4c00"/>
<circle cx="1315.39" cy="1294.34" r="6.1" fill="#ff4200"/>
<circle cx="1326.88" cy="1294.34" r="6.1" fill="#ff1c00"/>
<circle cx="1338.37" cy="1294.34" r="6.1" fill="#ff3900"/>
<circle cx="1349.86" cy="1294.34" r="6.1" fill="#ff3900"/>
<circle cx="1361.35" cy="1294.34" r="6.1" fill="#ff4200"/>
<circle cx="1372.84" cy="1294.34" r="6.1" fill="#ff7b00"/>
<circle cx="1384.33" cy="1294.34" r="6.1" fill="#ff8400"/>
<circle cx="1395.82" cy="1294.34" r="6.1" fill="#ff5e00"/>
<circle cx="1407.31" cy="1294.34" r="6.1" fill="#ff8400"/>
<circle cx="1418.80" cy="1294.34" r="6.1" fill="#ffaa00"/>
<circle cx="1430.29" cy="1294.34" r="6.1" fill="#ffbd00"/>
<circle cx="1441.78" cy="1294.34" r="6.1" fill="#f7f600"/>
<circle cx="1453.27" cy="1294.34" r="6.1" fill="#ffe300"/>
<circle cx="1464.76" cy="1294.34" r="6.1" fill="#c5ff31"/>
<circle cx="1476.25" cy="1294.34" r="6.1" fill="#c5ff31"/>
<circle cx="1487.74" cy="1294.34" r="6.1" fill="#adff4a"/>
<circle cx="1499.23" cy="1294.34" r="6.1" fill="#9cff5a"/>
<circle cx="1510.72" cy="1294.34" r="6.1" fill="#94ff63"/>
<circle cx="1522.21" cy="1294.34" r="6.1" fill="#84ff73"/>
<circle cx="1568.17" cy="1294.34" r="6.1" fill="#63ff94"/>
<circle cx="1257.94" cy="1282.45" r="6.1" fill="#00dbff"/>
<circle cx="1269.43" cy="1282.45" r="6.1" fill="#63ff94"/>
<circle cx="1280.92" cy="1282.45" r="6.1" fill="#deff19"/>
<circle cx="1292.41" cy="1282.45" r="6.1" fill="#ff9700"/>
<circle cx="1303.90" cy="1282.45" r="6.1" fill="#ff4c00"/>
<circle cx="1315.39" cy="1282.45" r="6.1" fill="#ff1c00"/>
<circle cx="1326.88" cy="1282.45" r="6.1" fill="#ff2600"/>
<circle cx="1338.37" cy="1282.45" r="6.1" fill="#ff1c00"/>
<circle cx="1349.86" cy="1282.45" r="6.1" fill="#ff4c00"/>
<circle cx="1361.35" cy="1282.45" r="6.1" fill="#ff4200"/>
<circle cx="1372.84" cy="1282.45" r="6.1" fill="#ff6800"/>
<circle cx="1384.33" cy="1282.45" r="6.1" fill="#ff7100"/>
<circle cx="1395.82" cy="1282.45" r="6.1" fill="#ff8400"/>
<circle cx="1407.31" cy="1282.45" r="6.1" fill="#ff8400"/>
<circle cx="1418.80" cy="1282.45" r="6.1" fill="#ffa100"/>
<circle cx="1430.29" cy="1282.45" r="6.1" fill="#ffd900"/>
<circle cx="1441.78" cy="1282.45" r="6.1" fill="#ffbd00"/>
<circle cx="1453.27" cy="1282.45" r="6.1" fill="#ffd900"/>
<circle cx="1464.76" cy="1282.45" r="6.1" fill="#e6ff10"/>
<circle cx="1476.25" cy="1282.45" r="6.1" fill="#e6ff10"/>
<circle cx="1487.74" cy="1282.45" r="6.1" fill="#84ff73"/>
<circle cx="1257.94" cy="1270.55" r="6.1" fill="#000fff"/>
<circle cx="1269.43" cy="1270.55" r="6.1" fill="#42ffb5"/>
<circle cx="1280.92" cy="1270.55" r="6.1" fill="#deff19"/>
<circle cx="1292.41" cy="1270.55" r="6.1" fill="#ff8400"/>
<circle cx="1303.90" cy="1270.55" r="6.1" fill="#ff7100"/>
<circle cx="1315.39" cy="1270.55" r="6.1" fill="#ff4c00"/>
<circle cx="1326.88" cy="1270.55" r="6.1" fill="#ff3900"/>
<circle cx="1338.37" cy="1270.55" r="6.1" fill="#ff1c00"/>
<circle cx="1349.86" cy="1270.55" r="6.1" fill="#ff3900"/>
<circle cx="1361.35" cy="1270.55" r="6.1" fill="#ff4c00"/>
<circle cx="1372.84" cy="1270.55" r="6.1" fill="#ff4200"/>
<circle cx="1384.33" cy="1270.55" r="6.1" fill="#ff8e00"/>
<circle cx="1395.82" cy="1270.55" r="6.1" fill="#ff8400"/>
<circle cx="1407.31" cy="1270.55" r="6.1" fill="#ffaa00"/>
<circle cx="1418.80" cy="1270.55" r="6.1" fill="#ffaa00"/>
<circle cx="1430.29" cy="1270.55" r="6.1" fill="#ff9700"/>
<circle cx="1441.78" cy="1270.55" r="6.1" fill="#ffbd00"/>
<circle cx="1453.27" cy="1270.55" r="6.1" fill="#ffd900"/>
<circle cx="1487.74" cy="1270.55" r="6.1" fill="#9cff5a"/>
<circle cx="1499.23" cy="1270.55" r="6.1" fill="#9cff5a"/>
<circle cx="1510.72" cy="1270.55" r="6.1" fill="#73ff84"/>
<circle cx="1257.94" cy="1258.66" r="6.1" fill="#00a8ff"/>
<circle cx="1269.43" cy="1258.66" r="6.1" fill="#10fae6"/>
<circle cx="1280.92" cy="1258.66" r="6.1" fill="#deff19"/>
<circle cx="1292.41" cy="1258.66" r="6.1" fill="#ff9700"/>
<circle cx="1303.90" cy="1258.66" r="6.1" fill="#ff5500"/>
<circle cx="1315.39" cy="1258.66" r="6.1" fill="#ff4c00"/>
<circle cx="1326.88" cy="1258.66" r="6.1" fill="#ff1c00"/>
<circle cx="1338.37" cy="1258.66" r="6.1" fill="#ff2f00"/>
<circle cx="1349.86" cy="1258.66" r="6.1" fill="#ff5500"/>
<circle cx="1361.35" cy="1258.66" r="6.1" fill="#ff5500"/>
<circle cx="1372.84" cy="1258.66" r="6.1" fill="#ff5e00"/>
<circle cx="1384.33" cy="1258.66" r="6.1" fill="#ff8400"/>
<circle cx="1395.82" cy="1258.66" r="6.1" fill="#ff8400"/>
<circle cx="1407.31" cy="1258.66" r="6.1" fill="#ff8400"/>
<circle cx="1418.80" cy="1258.66" r="6.1" fill="#ffb300"/>
<circle cx="1430.29" cy="1258.66" r="6.1" fill="#f7f600"/>
<circle cx="1499.23" cy="1258.66" r="6.1" fill="#a5ff52"/>
<circle cx="1510.72" cy="1258.66" r="6.1" fill="#8cff6b"/>
<circle cx="1257.94" cy="1246.77" r="6.1" fill="#002eff"/>
<circle cx="1269.43" cy="1246.77" r="6.1" fill="#0075ff"/>
<circle cx="1280.92" cy="1246.77" r="6.1" fill="#94ff63"/>
<circle cx="1292.41" cy="1246.77" r="6.1" fill="#ffa100"/>
<circle cx="1303.90" cy="1246.77" r="6.1" fill="#ff5500"/>
<circle cx="1315.39" cy="1246.77" r="6.1" fill="#ff4200"/>
<circle cx="1326.88" cy="1246.77" r="6.1" fill="#f30900"/>
<circle cx="1338.37" cy="1246.77" r="6.1" fill="#ff3900"/>
<circle cx="1349.86" cy="1246.77" r="6.1" fill="#ff5e00"/>
<circle cx="1361.35" cy="1246.77" r="6.1" fill="#ff6800"/>
<circle cx="1372.84" cy="1246.77" r="6.1" fill="#ff7100"/>
<circle cx="1384.33" cy="1246.77" r="6.1" fill="#ff5500"/>
<circle cx="1395.82" cy="1246.77" r="6.1" fill="#ff8e00"/>
<circle cx="1407.31" cy="1246.77" r="6.1" fill="#ffbd00"/>
<circle cx="1430.29" cy="1246.77" r="6.1" fill="#deff19"/>
<circle cx="1453.27" cy="1246.77" r="6.1" fill="#ceff29"/>
<circle cx="1487.74" cy="1246.77" r="6.1" fill="#a5ff52"/>
<circle cx="1499.23" cy="1246.77" r="6.1" fill="#ceff29"/>
<circle cx="1257.94" cy="1234.88" r="6.1" fill="#000fff"/>
<circle cx="1269.43" cy="1234.88" r="6.1" fill="#002eff"/>
<circle cx="1280.92" cy="1234.88" r="6.1" fill="#52ffa5"/>
<circle cx="1292.41" cy="1234.88" r="6.1" fill="#ffaa00"/>
<circle cx="1303.90" cy="1234.88" r="6.1" fill="#ff7100"/>
<circle cx="1315.39" cy="1234.88" r="6.1" fill="#ff2f00"/>
<circle cx="1326.88" cy="1234.88" r="6.1" fill="#ff1300"/>
<circle cx="1338.37" cy="1234.88" r="6.1" fill="#f30900"/>
<circle cx="1349.86" cy="1234.88" r="6.1" fill="#ff1c00"/>
<circle cx="1361.35" cy="1234.88" r="6.1" fill="#ff3900"/>
<circle cx="1372.84" cy="1234.88" r="6.1" fill="#ff5e00"/>
<circle cx="1384.33" cy="1234.88" r="6.1" fill="#ff9700"/>
<circle cx="1395.82" cy="1234.88" r="6.1" fill="#ff8e00"/>
<circle cx="1418.80" cy="1234.88" r="6.1" fill="#ff8e00"/>
<circle cx="1430.29" cy="1234.88" r="6.1" fill="#ff9700"/>
<circle cx="1464.76" cy="1234.88" r="6.1" fill="#ffe300"/>
<circle cx="1487.74" cy="1234.88" r="6.1" fill="#ceff29"/>
<circle cx="1246.45" cy="1222.99" r="6.1" fill="#0000b9"/>
<circle cx="1257.94" cy="1222.99" r="6.1" fill="#0000ae"/>
<circle cx="1269.43" cy="1222.99" r="6.1" fill="#000fff"/>
<circle cx="1280.92" cy="1222.99" r="6.1" fill="#7bff7b"/>
<circle cx="1292.41" cy="1222.99" r="6.1" fill="#ffa100"/>
<circle cx="1303.90" cy="1222.99" r="6.1" fill="#ff4c00"/>
<circle cx="1315.39" cy="1222.99" r="6.1" fill="#ff2f00"/>
<circle cx="1326.88" cy="1222.99" r="6.1" fill="#ff3900"/>
<circle cx="1338.37" cy="1222.99" r="6.1" fill="#ff4200"/>
<circle cx="1349.86" cy="1222.99" r="6.1" fill="#ff4c00"/>
<circle cx="1361.35" cy="1222.99" r="6.1" fill="#ff4200"/>
<circle cx="1372.84" cy="1222.99" r="6.1" fill="#ff5e00"/>
<circle cx="1384.33" cy="1222.99" r="6.1" fill="#ffd900"/>
<circle cx="1395.82" cy="1222.99" r="6.1" fill="#ff8400"/>
<circle cx="1407.31" cy="1222.99" r="6.1" fill="#ff8400"/>
<circle cx="1476.25" cy="1222.99" r="6.1" fill="#ffe300"/>
<circle cx="1499.23" cy="1222.99" r="6.1" fill="#ceff29"/>
<circle cx="1257.94" cy="1211.09" r="6.1" fill="#0000d1"/>
<circle cx="1269.43" cy="1211.09" r="6.1" fill="#006bff"/>
<circle cx="1280.92" cy="1211.09" r="6.1" fill="#42ffb5"/>
<circle cx="1292.41" cy="1211.09" r="6.1" fill="#ffd900"/>
<circle cx="1303.90" cy="1211.09" r="6.1" fill="#ff5e00"/>
<circle cx="1315.39" cy="1211.09" r="6.1" fill="#ff4c00"/>
<circle cx="1326.88" cy="1211.09" r="6.1" fill="#f30900"/>
<circle cx="1338.37" cy="1211.09" r="6.1" fill="#ff1c00"/>
<circle cx="1349.86" cy="1211.09" r="6.1" fill="#ff1300"/>
<circle cx="1361.35" cy="1211.09" r="6.1" fill="#ff5e00"/>
<circle cx="1384.33" cy="1211.09" r="6.1" fill="#ff8400"/>
<circle cx="1395.82" cy="1211.09" r="6.1" fill="#ff8e00"/>
<circle cx="1407.31" cy="1211.09" r="6.1" fill="#ffa100"/>
<circle cx="1418.80" cy="1211.09" r="6.1" fill="#ffb300"/>
<circle cx="1430.29" cy="1211.09" r="6.1" fill="#ffb300"/>
<circle cx="1453.27" cy="1211.09" r="6.1" fill="#ffc600"/>
<circle cx="1476.25" cy="1211.09" r="6.1" fill="#e6ff10"/>
<circle cx="1499.23" cy="1211.09" r="6.1" fill="#e6ff10"/>
<circle cx="1257.94" cy="1199.20" r="6.1" fill="#0000d1"/>
<circle cx="1269.43" cy="1199.20" r="6.1" fill="#00bdff"/>
<circle cx="1280.92" cy="1199.20" r="6.1" fill="#7bff7b"/>
<circle cx="1292.41" cy="1199.20" r="6.1" fill="#ffb300"/>
<circle cx="1303.90" cy="1199.20" r="6.1" fill="#ff5e00"/>
<circle cx="1315.39" cy="1199.20" r="6.1" fill="#ff4200"/>
<circle cx="1326.88" cy="1199.20" r="6.1" fill="#e80000"/>
<circle cx="1338.37" cy="1199.20" r="6.1" fill="#e80000"/>
<circle cx="1349.86" cy="1199.20" r="6.1" fill="#ff2f00"/>
<circle cx="1384.33" cy="1199.20" r="6.1" fill="#ff8400"/>
<circle cx="1395.82" cy="1199.20" r="6.1" fill="#ff8400"/>
<circle cx="1407.31" cy="1199.20" r="6.1" fill="#ffbd00"/>
<circle cx="1476.25" cy="1199.20" r="6.1" fill="#f7f600"/>
<circle cx="1257.94" cy="1187.31" r="6.1" fill="#000097"/>
<circle cx="1269.43" cy="1187.31" r="6.1" fill="#009eff"/>
<circle cx="1280.92" cy="1187.31" r="6.1" fill="#10fae6"/>
<circle cx="1292.41" cy="1187.31" r="6.1" fill="#ffa100"/>
<circle cx="1303.90" cy="1187.31" r="6.1" fill="#ff7100"/>
<circle cx="1315.39" cy="1187.31" r="6.1" fill="#dc0000"/>
<circle cx="1326.88" cy="1187.31" r="6.1" fill="#b90000"/>
<circle cx="1338.37" cy="1187.31" r="6.1" fill="#ff3900"/>
<circle cx="1361.35" cy="1187.31" r="6.1" fill="#ff4200"/>
<circle cx="1372.84" cy="1187.31" r="6.1" fill="#ff5e00"/>
<circle cx="1384.33" cy="1187.31" r="6.1" fill="#ff7b00"/>
<circle cx="1395.82" cy="1187.31" r="6.1" fill="#ffb300"/>
<circle cx="1418.80" cy="1187.31" r="6.1" fill="#ffa100"/>
<circle cx="1430.29" cy="1187.31" r="6.1" fill="#ffb300"/>
<circle cx="1257.94" cy="1175.42" r="6.1" fill="#002eff"/>
<circle cx="1269.43" cy="1175.42" r="6.1" fill="#009eff"/>
<circle cx="1280.92" cy="1175.42" r="6.1" fill="#7bff7b"/>
<circle cx="1292.41" cy="1175.42" r="6.1" fill="#ffc600"/>
<circle cx="1303.90" cy="1175.42" r="6.1" fill="#ff5e00"/>
<circle cx="1315.39" cy="1175.42" r="6.1" fill="#ff5500"/>
<circle cx="1326.88" cy="1175.42" r="6.1" fill="#ae0000"/>
<circle cx="1338.37" cy="1175.42" r="6.1" fill="#ff6800"/>
<circle cx="1349.86" cy="1175.42" r="6.1" fill="#f30900"/>
<circle cx="1361.35" cy="1175.42" r="6.1" fill="#ff2f00"/>
<circle cx="1372.84" cy="1175.42" r="6.1" fill="#ff4200"/>
<circle cx="1384.33" cy="1175.42" r="6.1" fill="#ffaa00"/>
<circle cx="1407.31" cy="1175.42" r="6.1" fill="#ff8e00"/>
<circle cx="1257.94" cy="1163.53" r="6.1" fill="#0000ae"/>
<circle cx="1269.43" cy="1163.53" r="6.1" fill="#00d1ff"/>
<circle cx="1280.92" cy="1163.53" r="6.1" fill="#21ffd6"/>
<circle cx="1292.41" cy="1163.53" r="6.1" fill="#ffb300"/>
<circle cx="1303.90" cy="1163.53" r="6.1" fill="#ff4200"/>
<circle cx="1315.39" cy="1163.53" r="6.1" fill="#ff5500"/>
<circle cx="1326.88" cy="1163.53" r="6.1" fill="#ff7100"/>
<circle cx="1338.37" cy="1163.53" r="6.1" fill="#dc0000"/>
<circle cx="1349.86" cy="1163.53" r="6.1" fill="#ff1c00"/>
<circle cx="1361.35" cy="1163.53" r="6.1" fill="#f30900"/>
<circle cx="1372.84" cy="1163.53" r="6.1" fill="#ff4c00"/>
<circle cx="1384.33" cy="1163.53" r="6.1" fill="#ff7100"/>
<circle cx="1257.94" cy="1151.63" r="6.1" fill="#000080"/>
<circle cx="1269.43" cy="1151.63" r="6.1" fill="#0080ff"/>
<circle cx="1280.92" cy="1151.63" r="6.1" fill="#42ffb5"/>
<circle cx="1292.41" cy="1151.63" r="6.1" fill="#f7f600"/>
<circle cx="1303.90" cy="1151.63" r="6.1" fill="#ff5e00"/>
<circle cx="1315.39" cy="1151.63" r="6.1" fill="#ff5500"/>
<circle cx="1326.88" cy="1151.63" r="6.1" fill="#e80000"/>
<circle cx="1338.37" cy="1151.63" r="6.1" fill="#ff4c00"/>
<circle cx="1349.86" cy="1151.63" r="6.1" fill="#ff4200"/>
<circle cx="1361.35" cy="1151.63" r="6.1" fill="#ff6800"/>
<circle cx="1384.33" cy="1151.63" r="6.1" fill="#ff5e00"/>
<circle cx="1395.82" cy="1151.63" r="6.1" fill="#ff8400"/>
<circle cx="1407.31" cy="1151.63" r="6.1" fill="#ff7b00"/>
<circle cx="1257.94" cy="1139.74" r="6.1" fill="#0000ae"/>
<circle cx="1269.43" cy="1139.74" r="6.1" fill="#00bdff"/>
<circle cx="1280.92" cy="1139.74" r="6.1" fill="#10fae6"/>
<circle cx="1292.41" cy="1139.74" r="6.1" fill="#ffe300"/>
<circle cx="1303.90" cy="1139.74" r="6.1" fill="#ff4200"/>
<circle cx="1315.39" cy="1139.74" r="6.1" fill="#ff1c00"/>
<circle cx="1326.88" cy="1139.74" r="6.1" fill="#ae0000"/>
<circle cx="1338.37" cy="1139.74" r="6.1" fill="#c50000"/>
<circle cx="1349.86" cy="1139.74" r="6.1" fill="#ff4c00"/>
<circle cx="1361.35" cy="1139.74" r="6.1" fill="#ff4200"/>
<circle cx="1384.33" cy="1139.74" r="6.1" fill="#ff5e00"/>
<circle cx="1269.43" cy="1127.85" r="6.1" fill="#0000e8"/>
<circle cx="1280.92" cy="1127.85" r="6.1" fill="#9cff5a"/>
<circle cx="1292.41" cy="1127.85" r="6.1" fill="#ff5e00"/>
<circle cx="1303.90" cy="1127.85" r="6.1" fill="#ff8e00"/>
<circle cx="1315.39" cy="1127.85" r="6.1" fill="#ff5e00"/>
<circle cx="1326.88" cy="1127.85" r="6.1" fill="#e80000"/>
<circle cx="1349.86" cy="1127.85" r="6.1" fill="#ff7100"/>
<circle cx="1372.84" cy="1127.85" r="6.1" fill="#ff7b00"/>
<circle cx="1257.94" cy="1115.96" r="6.1" fill="#00008b"/>
<circle cx="1269.43" cy="1115.96" r="6.1" fill="#006bff"/>
<circle cx="1280.92" cy="1115.96" r="6.1" fill="#31ffc5"/>
<circle cx="1292.41" cy="1115.96" r="6.1" fill="#d6ff21"/>
<circle cx="1303.90" cy="1115.96" r="6.1" fill="#ff3900"/>
<circle cx="1315.39" cy="1115.96" r="6.1" fill="#ff1300"/>
<circle cx="1326.88" cy="1115.96" r="6.1" fill="#ae0000"/>
<circle cx="1338.37" cy="1115.96" r="6.1" fill="#ff2600"/>
<circle cx="1349.86" cy="1115.96" r="6.1" fill="#ff6800"/>
<circle cx="1372.84" cy="1115.96" r="6.1" fill="#ffa100"/>
<circle cx="1395.82" cy="1115.96" r="6.1" fill="#ffa100"/>
<circle cx="1257.94" cy="1104.07" r="6.1" fill="#0000ae"/>
<circle cx="1269.43" cy="1104.07" r="6.1" fill="#0061ff"/>
<circle cx="1280.92" cy="1104.07" r="6.1" fill="#b5ff42"/>
<circle cx="1292.41" cy="1104.07" r="6.1" fill="#ffa100"/>
<circle cx="1303.90" cy="1104.07" r="6.1" fill="#ff8e00"/>
<circle cx="1315.39" cy="1104.07" r="6.1" fill="#ff1c00"/>
<circle cx="1326.88" cy="1104.07" r="6.1" fill="#ff5500"/>
<circle cx="1349.86" cy="1104.07" r="6.1" fill="#ff1c00"/>
<circle cx="1269.43" cy="1092.17" r="6.1" fill="#0000e8"/>
<circle cx="1280.92" cy="1092.17" r="6.1" fill="#94ff63"/>
<circle cx="1292.41" cy="1092.17" r="6.1" fill="#e6ff10"/>
<circle cx="1303.90" cy="1092.17" r="6.1" fill="#f30900"/>
<circle cx="1315.39" cy="1092.17" r="6.1" fill="#ff4200"/>
<circle cx="1326.88" cy="1092.17" r="6.1" fill="#f30900"/>
<circle cx="1338.37" cy="1092.17" r="6.1" fill="#ff1c00"/>
<circle cx="1361.35" cy="1092.17" r="6.1" fill="#ff7100"/>
<circle cx="1372.84" cy="1092.17" r="6.1" fill="#ff4200"/>
<circle cx="1384.33" cy="1092.17" r="6.1" fill="#ff5500"/>
<circle cx="1257.94" cy="1080.28" r="6.1" fill="#0000ae"/>
<circle cx="1269.43" cy="1080.28" r="6.1" fill="#0000e8"/>
<circle cx="1280.92" cy="1080.28" r="6.1" fill="#21ffd6"/>
<circle cx="1292.41" cy="1080.28" r="6.1" fill="#ffbd00"/>
<circle cx="1315.39" cy="1080.28" r="6.1" fill="#d10000"/>
<circle cx="1326.88" cy="1080.28" r="6.1" fill="#ff1c00"/>
<circle cx="1269.43" cy="1068.39" r="6.1" fill="#0075ff"/>
<circle cx="1280.92" cy="1068.39" r="6.1" fill="#7bff7b"/>
<circle cx="1292.41" cy="1068.39" r="6.1" fill="#94ff63"/>
<circle cx="1303.90" cy="1068.39" r="6.1" fill="#ff1c00"/>
<circle cx="1315.39" cy="1068.39" r="6.1" fill="#ff1300"/>
<circle cx="1326.88" cy="1068.39" r="6.1" fill="#e80000"/>
<circle cx="1338.37" cy="1068.39" r="6.1" fill="#dc0000"/>
<circle cx="1349.86" cy="1068.39" r="6.1" fill="#ff1300"/>
<circle cx="1292.41" cy="1056.50" r="6.1" fill="#ffb300"/>
<circle cx="1303.90" cy="1056.50" r="6.1" fill="#ff2f00"/>
<circle cx="1315.39" cy="1056.50" r="6.1" fill="#800000"/>
<circle cx="1269.43" cy="1044.61" r="6.1" fill="#0000dc"/>
<circle cx="1280.92" cy="1044.61" r="6.1" fill="#0057ff"/>
<circle cx="1292.41" cy="1044.61" r="6.1" fill="#ff6800"/>
<circle cx="1257.94" cy="1032.71" r="6.1" fill="#000080"/>
<circle cx="1269.43" cy="1032.71" r="6.1" fill="#000080"/>
<circle cx="1280.92" cy="1032.71" r="6.1" fill="#21ffd6"/>
<circle cx="1292.41" cy="1032.71" r="6.1" fill="#ff6800"/>
<circle cx="1303.90" cy="1032.71" r="6.1" fill="#ff1c00"/>
<circle cx="1338.37" cy="1032.71" r="6.1" fill="#f30900"/>
<circle cx="1269.43" cy="1020.82" r="6.1" fill="#0094ff"/>
<circle cx="1292.41" cy="1020.82" r="6.1" fill="#ff7100"/>
<circle cx="1303.90" cy="1020.82" r="6.1" fill="#dc0000"/>
<circle cx="1315.39" cy="1020.82" r="6.1" fill="#d10000"/>
<circle cx="1257.94" cy="1008.93" r="6.1" fill="#0000ae"/>
<circle cx="1280.92" cy="1008.93" r="6.1" fill="#08f0ef"/>
<circle cx="1303.90" cy="1008.93" r="6.1" fill="#f30900"/>
<circle cx="1315.39" cy="1008.93" r="6.1" fill="#d10000"/>
<circle cx="1292.41" cy="997.04" r="6.1" fill="#deff19"/>
<circle cx="1303.90" cy="997.04" r="6.1" fill="#ae0000"/>
<circle cx="1349.86" cy="997.04" r="6.1" fill="#ff2600"/>
<circle cx="1269.43" cy="985.15" r="6.1" fill="#0024ff"/>
<circle cx="1280.92" cy="985.15" r="6.1" fill="#7bff7b"/>
<circle cx="1303.90" cy="985.15" r="6.1" fill="#ff2600"/>
<circle cx="1269.43" cy="973.25" r="6.1" fill="#000fff"/>
<circle cx="1280.92" cy="961.36" r="6.1" fill="#73ff84"/>
<circle cx="1292.41" cy="961.36" r="6.1" fill="#ff4200"/>
<circle cx="1292.41" cy="949.47" r="6.1" fill="#ff7100"/>
<circle cx="1303.90" cy="949.47" r="6.1" fill="#ff5e00"/>
<circle cx="1315.39" cy="949.47" r="6.1" fill="#9c0000"/>
<circle cx="1303.90" cy="937.58" r="6.1" fill="#c50000"/>
<circle cx="1292.41" cy="925.69" r="6.1" fill="#ff8400"/>
<circle cx="1303.90" cy="925.69" r="6.1" fill="#800000"/>
<circle cx="1303.90" cy="913.79" r="6.1" fill="#e80000"/>
<circle cx="1269.43" cy="901.90" r="6.1" fill="#000fff"/>
<circle cx="1280.92" cy="901.90" r="6.1" fill="#29ffce"/>
<circle cx="1280.92" cy="878.12" r="6.1" fill="#42ffb5"/>
<circle cx="1326.88" cy="866.23" r="6.1" fill="#ff2600"/>
<circle cx="1303.90" cy="830.55" r="6.1" fill="#b90000"/>
</g>
<rect x="1223.35" y="758.83" width="597.70" height="618.60" fill="none" stroke="#000" stroke-width="2.67"/>
<text x="1234.96" y="1426.43" text-anchor="middle">0.0</text>
<text x="1378.58" y="1426.43" text-anchor="middle">2.5</text>
<text x="1522.21" y="1426.43" text-anchor="middle">5.0</text>
<text x="1665.83" y="1426.43" text-anchor="middle">7.5</text>
<text x="1809.46" y="1426.43" text-anchor="middle">10.0</text>
<text x="1200.05" y="1378.19" text-anchor="end">0.0</text>
<text x="1200.05" y="1259.27" text-anchor="end">0.2</text>
<text x="1200.05" y="1140.35" text-anchor="end">0.4</text>
<text x="1200.05" y="1021.43" text-anchor="end">0.6</text>
<text x="1200.05" y="902.51" text-anchor="end">0.8</text>
<text x="1200.05" y="783.59" text-anchor="end">1.0</text>
<rect x="1858.40" y="758.83" width="30.79" height="618.60" fill="url(#jet)" stroke="#000" stroke-width="2.67"/>
<text x="1912.59" y="1390.53">0</text>
<text x="1912.59" y="1320.49">250</text>
<text x="1912.59" y="1250.45">500</text>
<text x="1912.59" y="1180.41">750</text>
<text x="1912.59" y="1110.37">1000</text>
<text x="1912.59" y="1040.33">1250</text>
<text x="1912.59" y="970.29">1500</text>
<text x="1912.59" y="900.24">1750</text>
<text x="1912.59" y="830.20">2000</text>
<path d="M1234.96 1377.43v11.67M1378.58 1377.43v11.67M1522.21 1377.43v11.67M1665.83 1377.43v11.67M1809.46 1377.43v11.67M1223.35 1365.69h-11.67M1223.35 1246.77h-11.67M1223.35 1127.85h-11.67M1223.35 1008.93h-11.67M1223.35 890.01h-11.67M1223.35 771.09h-11.67M1889.19 1377.43h11.67M1889.19 1307.39h11.67M1889.19 1237.35h11.67M1889.19 1167.31h11.67M1889.19 1097.27h11.67M1889.19 1027.23h11.67M1889.19 957.19h11.67M1889.19 887.14h11.67M1889.19 817.10h11.67" stroke="#000" stroke-width="2.67" fill="none"/>
<text x="1520.70" y="1476.83" text-anchor="middle" letter-spacing="0.180">1/Density, cm<tspan font-size="23.33" dy="-13.80">3</tspan><tspan dy="13.80" dx="1.60">g</tspan><tspan font-size="23.33" dy="-13.80">−1</tspan></text>
<text transform="translate(1123.35 1071.13) rotate(-90)" text-anchor="middle" letter-spacing="0.000">Thermal Conductivity, Wm<tspan font-size="23.33" dy="-13.80">−1</tspan><tspan dy="13.80" dx="3.20">K</tspan><tspan font-size="23.33" dy="-13.80">−1</tspan></text>
<text transform="translate(2041.00 1069.78) rotate(-90)" text-anchor="middle" letter-spacing="0.200">Volumetric Surface Area, m<tspan font-size="23.33" dy="-13.80">2</tspan><tspan dy="13.80" dx="2.00">cm</tspan><tspan font-size="23.33" dy="-13.80">−3</tspan></text>
<text x="1039.90" y="785.00" font-family="'Liberation Sans', Arial, Helvetica, sans-serif" font-weight="bold" font-size="52">d</text>
</g>
</svg>
</body></html>
